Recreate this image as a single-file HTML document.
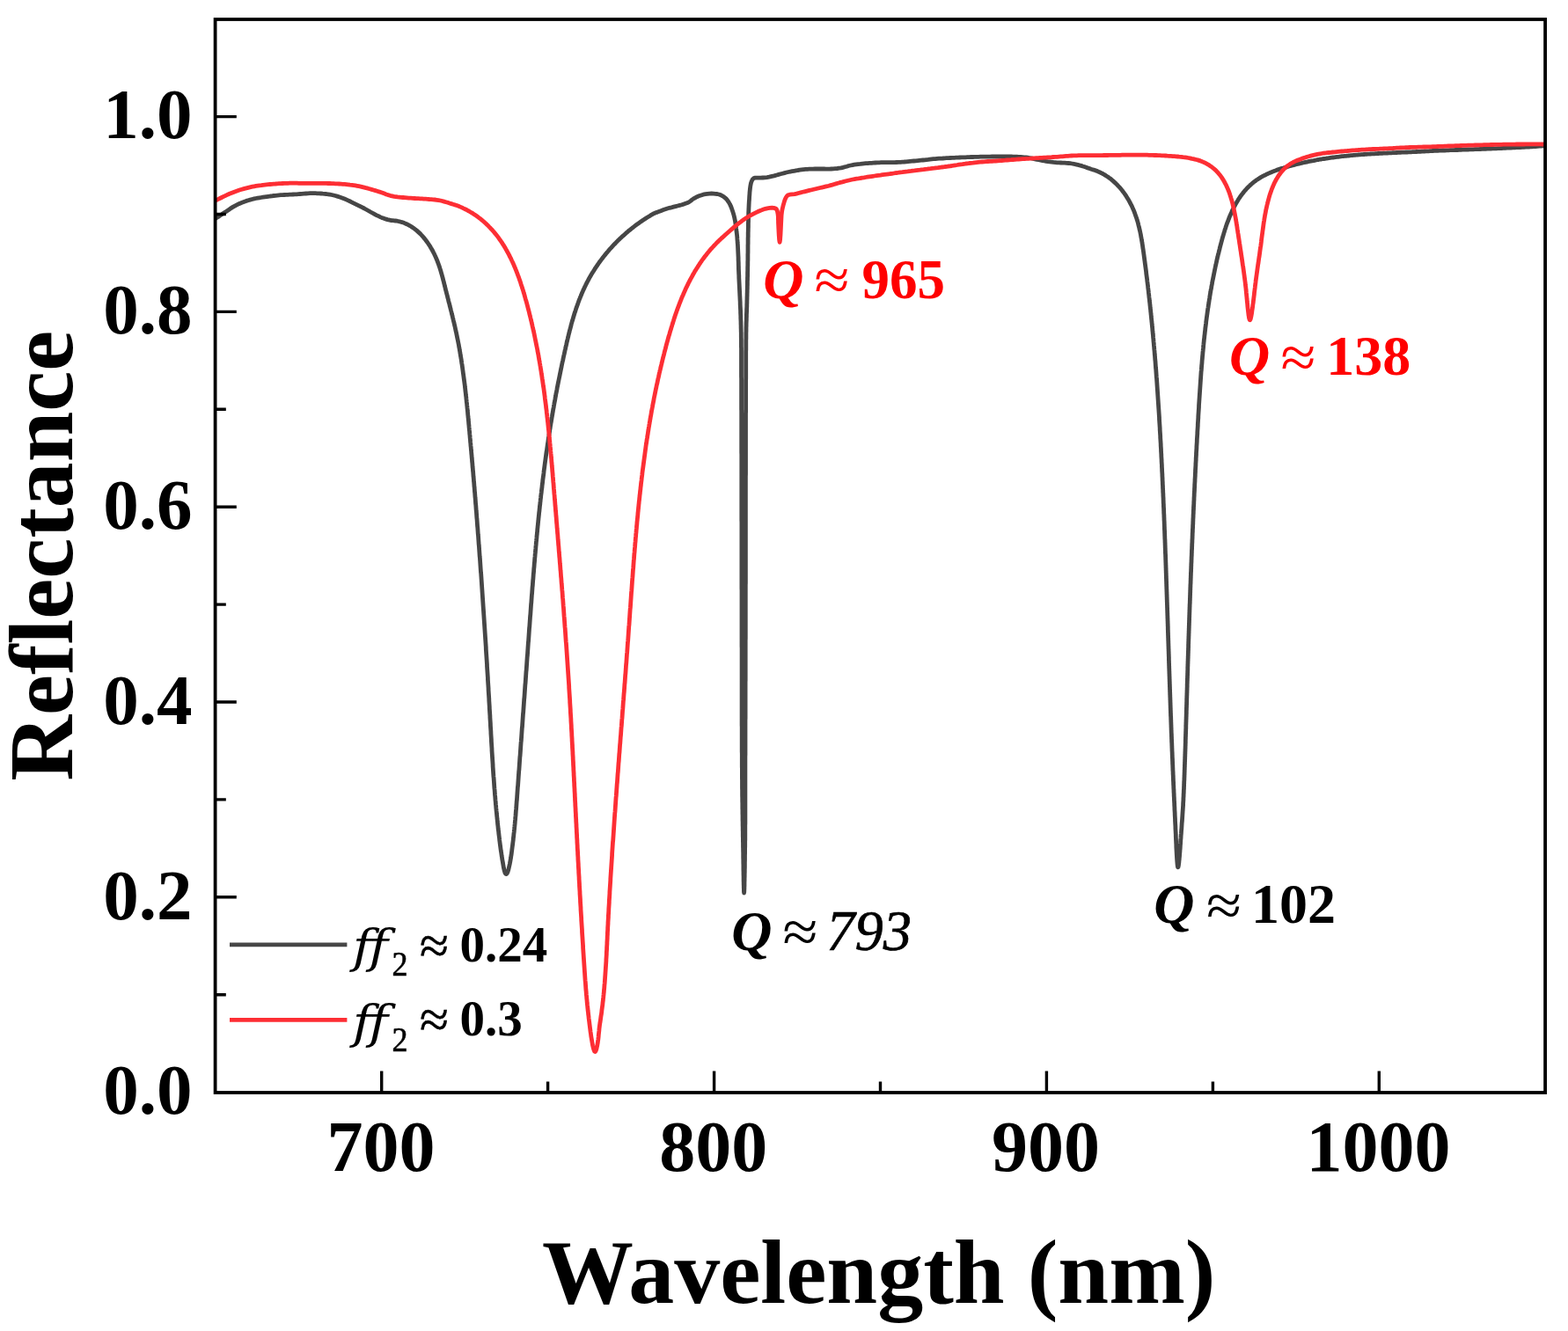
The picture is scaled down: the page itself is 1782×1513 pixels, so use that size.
<!DOCTYPE html><html><head><meta charset="utf-8"><title>Reflectance</title><style>html,body{margin:0;padding:0;background:#fff;}svg{display:block;}text{font-family:'Liberation Serif','Times New Roman',serif;}</style></head><body>
<svg width="1782" height="1513" viewBox="0 0 1782 1513">
<rect width="1782" height="1513" fill="#ffffff"/>
<defs><clipPath id="c"><rect x="244.8" y="22.0" width="1511.4" height="1219.6"/></clipPath></defs>
<g clip-path="url(#c)" fill="none" stroke-linejoin="round" stroke-linecap="round">
<path d="M244.8 248.3 L245.7 247.8 L246.8 247.2 L248.1 246.4 L249.7 245.3 L251.5 244.1 L253.3 242.8 L255.2 241.6 L257.0 240.4 L258.8 239.2 L260.7 237.9 L262.6 236.6 L264.5 235.4 L266.4 234.3 L268.3 233.3 L270.1 232.4 L272.0 231.5 L273.9 230.7 L275.8 229.9 L277.7 229.2 L279.9 228.4 L282.1 227.7 L284.3 227.1 L286.6 226.5 L288.9 225.9 L290.8 225.5 L292.8 225.1 L294.8 224.8 L296.8 224.5 L298.8 224.2 L300.9 223.9 L302.9 223.6 L304.9 223.3 L306.9 223.0 L308.9 222.8 L311.0 222.5 L313.0 222.3 L315.0 222.1 L317.0 221.9 L319.0 221.7 L321.0 221.6 L323.1 221.5 L325.1 221.4 L327.1 221.3 L329.1 221.2 L331.0 221.1 L333.1 221.0 L335.1 220.9 L337.2 220.8 L339.1 220.6 L341.1 220.5 L343.0 220.4 L345.4 220.2 L347.6 220.0 L349.9 219.8 L352.3 219.7 L354.3 219.7 L356.3 219.7 L358.4 219.7 L360.5 219.8 L362.6 219.9 L364.7 220.0 L366.8 220.2 L368.8 220.3 L370.9 220.5 L372.9 220.8 L375.0 221.1 L377.0 221.5 L379.1 222.0 L381.2 222.5 L383.2 223.1 L385.3 223.8 L387.4 224.5 L389.4 225.2 L391.5 226.0 L393.5 226.9 L395.6 227.9 L397.6 228.8 L399.7 229.8 L401.7 230.8 L403.8 231.8 L405.8 232.8 L407.9 233.8 L410.0 234.9 L412.0 235.9 L414.1 237.0 L415.9 238.0 L417.7 239.0 L419.5 240.0 L421.2 241.0 L423.0 242.0 L424.7 242.9 L426.4 243.8 L428.3 244.8 L430.2 245.7 L432.0 246.6 L433.8 247.4 L435.7 248.1 L438.0 248.9 L440.4 249.6 L442.7 250.1 L444.9 250.6 L446.5 250.7 L448.0 250.8 L449.5 251.0 L451.0 251.2 L452.5 251.5 L454.0 251.8 L455.4 252.2 L456.8 252.6 L458.2 253.1 L459.6 253.6 L461.0 254.2 L462.3 254.8 L463.6 255.4 L464.9 256.1 L466.2 256.8 L467.4 257.6 L468.7 258.4 L469.9 259.2 L471.1 260.1 L472.2 261.0 L473.4 261.9 L474.5 262.9 L475.6 263.9 L476.7 264.9 L477.8 265.9 L478.8 267.0 L479.8 268.1 L480.8 269.2 L481.8 270.4 L482.8 271.6 L483.7 272.8 L484.6 274.0 L485.5 275.2 L486.4 276.5 L487.3 277.8 L488.1 279.0 L488.9 280.3 L489.7 281.7 L490.5 283.0 L491.2 284.3 L492.0 285.7 L492.7 287.1 L493.4 288.4 L494.0 289.8 L494.7 291.2 L495.3 292.6 L495.9 294.0 L496.5 295.4 L497.0 296.8 L497.6 298.2 L498.1 299.6 L498.6 301.0 L499.1 302.4 L499.6 303.8 L500.0 305.2 L500.5 306.6 L500.9 308.0 L501.3 309.4 L501.7 310.8 L502.1 312.2 L502.5 313.6 L502.9 315.1 L503.3 316.5 L503.6 317.9 L504.0 319.3 L504.4 320.7 L504.7 322.2 L505.1 323.6 L505.4 325.0 L505.8 326.4 L506.1 327.9 L506.5 329.3 L506.9 330.8 L507.2 332.2 L507.6 333.6 L508.0 335.1 L508.4 336.5 L508.7 338.0 L509.1 339.4 L509.5 340.9 L509.8 342.3 L510.2 343.8 L510.6 345.2 L511.0 346.7 L511.3 348.2 L511.7 349.6 L512.1 351.1 L512.4 352.5 L512.8 354.0 L513.2 355.5 L513.5 356.9 L513.9 358.4 L514.3 359.9 L514.6 361.3 L515.0 362.8 L515.3 364.3 L515.7 365.8 L516.0 367.2 L516.4 368.7 L516.7 370.2 L517.1 371.6 L517.4 373.1 L517.7 374.6 L518.0 376.1 L518.4 377.6 L518.7 379.0 L519.0 380.5 L519.3 382.0 L519.6 383.5 L519.9 384.9 L520.2 386.4 L520.5 387.9 L520.8 389.4 L521.1 390.9 L521.4 392.3 L521.6 393.8 L521.9 395.3 L522.2 396.8 L522.4 398.3 L522.7 399.7 L522.9 401.2 L523.2 402.7 L523.4 404.2 L523.7 405.7 L523.9 407.2 L524.2 408.6 L524.4 410.1 L524.6 411.6 L524.8 413.1 L525.1 414.6 L525.3 416.1 L525.5 417.5 L525.7 419.0 L525.9 420.5 L526.1 422.0 L526.3 423.5 L526.5 425.0 L526.7 426.5 L526.9 427.9 L527.1 429.4 L527.3 430.9 L527.5 432.4 L527.7 433.9 L527.9 435.4 L528.1 436.9 L528.3 438.3 L528.4 439.8 L528.6 441.3 L528.8 442.8 L528.9 444.3 L529.1 445.8 L529.3 447.3 L529.4 448.8 L529.6 450.3 L529.8 451.7 L529.9 453.2 L530.1 454.7 L530.2 456.2 L530.4 457.7 L530.6 459.2 L530.7 460.7 L530.9 462.2 L531.0 463.7 L531.2 465.2 L531.3 466.6 L531.5 468.1 L531.6 469.6 L531.7 471.1 L531.9 472.6 L532.0 474.1 L532.2 475.6 L532.3 477.1 L532.5 478.6 L532.6 480.1 L532.7 481.6 L532.9 483.1 L533.0 484.5 L533.1 486.0 L533.3 487.5 L533.4 489.0 L533.6 490.5 L533.7 492.0 L533.8 493.5 L534.0 495.0 L534.1 496.5 L534.2 498.0 L534.4 499.5 L534.5 501.0 L534.6 502.5 L534.8 504.0 L534.9 505.5 L535.0 507.0 L535.2 508.4 L535.3 509.9 L535.4 511.4 L535.6 512.9 L535.7 514.4 L535.8 515.9 L536.0 517.4 L536.1 518.9 L536.2 520.4 L536.4 521.9 L536.5 523.4 L536.6 524.9 L536.8 526.4 L536.9 527.9 L537.0 529.4 L537.1 530.9 L537.3 532.4 L537.4 533.9 L537.5 535.4 L537.7 536.9 L537.8 538.4 L537.9 539.9 L538.0 541.4 L538.2 542.8 L538.3 544.3 L538.4 545.8 L538.5 547.3 L538.7 548.8 L538.8 550.3 L538.9 551.8 L539.0 553.3 L539.2 554.8 L539.3 556.3 L539.4 557.8 L539.5 559.3 L539.7 560.8 L539.8 562.3 L539.9 563.8 L540.0 565.3 L540.2 566.8 L540.3 568.3 L540.4 569.8 L540.5 571.3 L540.6 572.8 L540.8 574.3 L540.9 575.8 L541.0 577.3 L541.1 578.8 L541.2 580.3 L541.4 581.8 L541.5 583.3 L541.6 584.8 L541.7 586.3 L541.8 587.8 L541.9 589.3 L542.1 590.8 L542.2 592.3 L542.3 593.8 L542.4 595.3 L542.5 596.8 L542.6 598.3 L542.8 599.8 L542.9 601.3 L543.0 602.8 L543.1 604.3 L543.2 605.8 L543.3 607.3 L543.5 608.8 L543.6 610.3 L543.7 611.8 L543.8 613.3 L543.9 614.8 L544.0 616.3 L544.1 617.8 L544.2 619.3 L544.4 620.8 L544.5 622.3 L544.6 623.8 L544.7 625.3 L544.8 626.8 L544.9 628.3 L545.0 629.8 L545.1 631.3 L545.2 632.8 L545.4 634.3 L545.5 635.8 L545.6 637.3 L545.7 638.8 L545.8 640.3 L545.9 641.8 L546.0 643.3 L546.1 644.8 L546.2 646.3 L546.3 647.8 L546.4 649.3 L546.5 650.8 L546.7 652.3 L546.8 653.8 L546.9 655.3 L547.0 656.8 L547.1 658.3 L547.2 659.8 L547.3 661.3 L547.4 662.8 L547.5 664.3 L547.6 665.8 L547.7 667.3 L547.8 668.8 L547.9 670.3 L548.0 671.8 L548.1 673.3 L548.2 674.8 L548.3 676.3 L548.4 677.8 L548.5 679.3 L548.6 680.8 L548.7 682.3 L548.8 683.8 L548.9 685.3 L549.0 686.8 L549.1 688.3 L549.2 689.8 L549.3 691.3 L549.4 692.7 L549.5 694.2 L549.6 695.7 L549.7 697.2 L549.8 698.7 L549.9 700.2 L550.0 701.7 L550.1 703.2 L550.2 704.7 L550.3 706.2 L550.4 707.7 L550.5 709.2 L550.6 710.7 L550.7 712.2 L550.8 713.7 L550.9 715.2 L551.0 716.7 L551.1 718.2 L551.2 719.7 L551.3 721.2 L551.4 722.7 L551.5 724.2 L551.6 725.7 L551.7 727.2 L551.8 728.7 L551.9 730.2 L552.0 731.7 L552.1 733.2 L552.2 734.7 L552.3 736.2 L552.3 737.7 L552.4 739.2 L552.5 740.7 L552.6 742.2 L552.7 743.7 L552.8 745.2 L552.9 746.7 L553.0 748.2 L553.1 749.7 L553.2 751.2 L553.3 752.7 L553.4 754.2 L553.5 755.7 L553.5 757.2 L553.6 758.7 L553.7 760.2 L553.8 761.7 L553.9 763.2 L554.0 764.7 L554.1 766.2 L554.2 767.7 L554.3 769.2 L554.4 770.7 L554.4 772.2 L554.5 773.6 L554.6 775.1 L554.7 776.6 L554.8 778.1 L554.9 779.6 L555.0 781.1 L555.1 782.6 L555.1 784.1 L555.2 785.6 L555.3 787.1 L555.4 788.6 L555.5 790.1 L555.6 791.6 L555.7 793.1 L555.8 794.6 L555.8 796.1 L555.9 797.6 L556.0 799.1 L556.1 800.6 L556.2 802.1 L556.3 803.6 L556.3 805.1 L556.4 806.5 L556.5 808.0 L556.6 809.5 L556.7 811.0 L556.8 812.5 L556.9 814.0 L556.9 815.5 L557.0 817.0 L557.1 818.5 L557.2 820.0 L557.3 821.5 L557.4 823.0 L557.4 824.5 L557.5 826.0 L557.6 827.5 L557.7 828.9 L557.8 830.4 L557.9 831.9 L557.9 833.4 L558.0 834.9 L558.1 836.4 L558.2 837.9 L558.3 839.4 L558.4 840.9 L558.4 842.4 L558.5 843.9 L558.6 845.4 L558.7 846.9 L558.8 848.4 L558.9 849.8 L559.0 851.3 L559.0 852.8 L559.1 854.3 L559.2 855.8 L559.3 857.3 L559.4 858.8 L559.5 860.3 L559.6 861.8 L559.7 863.3 L559.8 864.8 L559.9 866.3 L560.0 867.8 L560.1 869.3 L560.1 870.8 L560.2 872.3 L560.3 873.7 L560.4 875.2 L560.5 876.7 L560.6 878.2 L560.7 879.7 L560.8 881.2 L560.9 882.7 L561.1 884.2 L561.2 885.7 L561.3 887.2 L561.4 888.7 L561.5 890.2 L561.6 891.7 L561.7 893.2 L561.8 894.7 L561.9 896.2 L562.1 897.7 L562.2 899.2 L562.3 900.7 L562.4 902.2 L562.5 903.7 L562.7 905.2 L562.8 906.7 L562.9 908.2 L563.0 909.7 L563.2 911.2 L563.3 912.7 L563.4 914.2 L563.6 915.7 L563.7 917.2 L563.8 918.7 L564.0 920.2 L564.1 921.7 L564.3 923.3 L564.4 924.8 L564.6 926.3 L564.7 927.8 L564.9 929.3 L565.0 930.8 L565.2 932.3 L565.3 933.8 L565.5 935.3 L565.6 936.8 L565.8 938.3 L566.0 939.9 L566.1 941.4 L566.3 942.9 L566.5 944.4 L566.7 945.9 L566.8 947.4 L567.0 948.9 L567.2 950.5 L567.4 952.0 L567.6 953.5 L567.7 955.0 L567.9 956.5 L568.1 958.0 L568.3 959.6 L568.5 961.1 L568.7 962.6 L568.9 964.1 L569.1 965.7 L569.3 967.2 L569.6 968.7 L569.8 970.2 L570.0 971.8 L570.2 973.3 L570.5 974.9 L570.7 976.5 L571.0 978.2 L571.3 979.8 L571.6 981.5 L571.9 983.3 L572.2 985.0 L572.5 986.8 L572.9 988.5 L573.3 990.1 L573.7 991.4 L574.1 992.5 L574.6 993.2 L575.0 993.5 L575.5 993.6 L575.9 993.2 L576.4 992.5 L576.9 991.5 L577.3 990.2 L577.8 988.7 L578.2 987.0 L578.6 985.2 L579.0 983.4 L579.4 981.7 L579.7 980.0 L580.0 978.3 L580.3 976.6 L580.6 975.0 L580.8 973.3 L581.1 971.7 L581.3 970.1 L581.5 968.5 L581.7 967.0 L581.9 965.4 L582.1 963.8 L582.3 962.2 L582.5 960.7 L582.7 959.1 L582.9 957.5 L583.1 956.0 L583.3 954.4 L583.4 952.9 L583.6 951.4 L583.8 949.8 L583.9 948.3 L584.1 946.8 L584.3 945.2 L584.4 943.7 L584.6 942.2 L584.7 940.7 L584.9 939.2 L585.0 937.7 L585.2 936.2 L585.3 934.7 L585.4 933.2 L585.6 931.7 L585.7 930.2 L585.8 928.7 L586.0 927.2 L586.1 925.7 L586.2 924.2 L586.3 922.7 L586.4 921.2 L586.6 919.7 L586.7 918.2 L586.8 916.8 L586.9 915.3 L587.0 913.8 L587.1 912.3 L587.2 910.8 L587.4 909.4 L587.5 907.9 L587.6 906.4 L587.7 904.9 L587.8 903.4 L587.9 902.0 L588.0 900.5 L588.1 899.0 L588.2 897.5 L588.3 896.1 L588.4 894.6 L588.6 893.1 L588.7 891.6 L588.8 890.1 L588.9 888.6 L589.0 887.2 L589.1 885.7 L589.2 884.2 L589.3 882.7 L589.4 881.2 L589.5 879.8 L589.6 878.3 L589.7 876.8 L589.9 875.3 L590.0 873.8 L590.1 872.3 L590.2 870.8 L590.3 869.4 L590.4 867.9 L590.5 866.4 L590.6 864.9 L590.7 863.4 L590.8 861.9 L590.9 860.4 L591.1 858.9 L591.2 857.4 L591.3 856.0 L591.4 854.5 L591.5 853.0 L591.6 851.5 L591.7 850.0 L591.8 848.5 L591.9 847.0 L592.0 845.5 L592.1 844.0 L592.3 842.5 L592.4 841.0 L592.5 839.5 L592.6 838.1 L592.7 836.6 L592.8 835.1 L592.9 833.6 L593.0 832.1 L593.1 830.6 L593.2 829.1 L593.3 827.6 L593.5 826.1 L593.6 824.6 L593.7 823.1 L593.8 821.6 L593.9 820.1 L594.0 818.6 L594.1 817.1 L594.2 815.6 L594.3 814.1 L594.4 812.6 L594.5 811.1 L594.7 809.6 L594.8 808.1 L594.9 806.6 L595.0 805.1 L595.1 803.6 L595.2 802.1 L595.3 800.6 L595.4 799.1 L595.5 797.6 L595.6 796.1 L595.7 794.6 L595.9 793.1 L596.0 791.6 L596.1 790.1 L596.2 788.6 L596.3 787.1 L596.4 785.6 L596.5 784.1 L596.6 782.6 L596.7 781.1 L596.8 779.6 L596.9 778.1 L597.1 776.6 L597.2 775.1 L597.3 773.6 L597.4 772.1 L597.5 770.6 L597.6 769.1 L597.7 767.6 L597.8 766.1 L597.9 764.6 L598.0 763.1 L598.2 761.6 L598.3 760.1 L598.4 758.6 L598.5 757.1 L598.6 755.6 L598.7 754.1 L598.8 752.6 L598.9 751.1 L599.0 749.6 L599.1 748.1 L599.2 746.6 L599.4 745.1 L599.5 743.6 L599.6 742.1 L599.7 740.6 L599.8 739.1 L599.9 737.6 L600.0 736.1 L600.1 734.6 L600.2 733.1 L600.3 731.6 L600.4 730.1 L600.6 728.6 L600.7 727.1 L600.8 725.6 L600.9 724.1 L601.0 722.6 L601.1 721.1 L601.2 719.6 L601.3 718.1 L601.4 716.6 L601.5 715.1 L601.6 713.6 L601.8 712.1 L601.9 710.6 L602.0 709.1 L602.1 707.6 L602.2 706.1 L602.3 704.6 L602.4 703.1 L602.5 701.6 L602.6 700.1 L602.8 698.6 L602.9 697.1 L603.0 695.6 L603.1 694.1 L603.2 692.6 L603.3 691.1 L603.4 689.6 L603.5 688.1 L603.6 686.6 L603.8 685.1 L603.9 683.6 L604.0 682.1 L604.1 680.6 L604.2 679.1 L604.3 677.6 L604.4 676.1 L604.6 674.6 L604.7 673.1 L604.8 671.6 L604.9 670.1 L605.0 668.6 L605.1 667.1 L605.3 665.6 L605.4 664.1 L605.5 662.6 L605.6 661.1 L605.7 659.6 L605.9 658.1 L606.0 656.6 L606.1 655.1 L606.2 653.6 L606.3 652.1 L606.5 650.6 L606.6 649.1 L606.7 647.6 L606.8 646.1 L607.0 644.6 L607.1 643.1 L607.2 641.6 L607.3 640.1 L607.5 638.6 L607.6 637.1 L607.7 635.7 L607.8 634.2 L608.0 632.7 L608.1 631.2 L608.2 629.7 L608.4 628.2 L608.5 626.7 L608.6 625.2 L608.8 623.7 L608.9 622.2 L609.0 620.7 L609.2 619.2 L609.3 617.7 L609.4 616.2 L609.6 614.7 L609.7 613.2 L609.9 611.7 L610.0 610.2 L610.1 608.7 L610.3 607.3 L610.4 605.8 L610.6 604.3 L610.7 602.8 L610.8 601.3 L611.0 599.8 L611.1 598.3 L611.3 596.8 L611.4 595.3 L611.6 593.8 L611.7 592.3 L611.9 590.8 L612.0 589.3 L612.2 587.8 L612.3 586.4 L612.5 584.9 L612.6 583.4 L612.8 581.9 L613.0 580.4 L613.1 578.9 L613.3 577.4 L613.4 575.9 L613.6 574.4 L613.8 572.9 L613.9 571.4 L614.1 570.0 L614.2 568.5 L614.4 567.0 L614.6 565.5 L614.7 564.0 L614.9 562.5 L615.1 561.0 L615.3 559.5 L615.4 558.0 L615.6 556.5 L615.8 555.1 L616.0 553.6 L616.1 552.1 L616.3 550.6 L616.5 549.1 L616.7 547.6 L616.8 546.1 L617.0 544.6 L617.2 543.2 L617.4 541.7 L617.6 540.2 L617.8 538.7 L618.0 537.2 L618.1 535.7 L618.3 534.2 L618.5 532.7 L618.7 531.3 L618.9 529.8 L619.1 528.3 L619.3 526.8 L619.5 525.3 L619.7 523.8 L619.9 522.3 L620.1 520.9 L620.3 519.4 L620.5 517.9 L620.7 516.4 L620.9 514.9 L621.1 513.4 L621.4 512.0 L621.6 510.5 L621.8 509.0 L622.0 507.5 L622.2 506.0 L622.4 504.5 L622.7 503.1 L622.9 501.6 L623.1 500.1 L623.3 498.6 L623.5 497.1 L623.8 495.6 L624.0 494.2 L624.2 492.7 L624.5 491.2 L624.7 489.7 L624.9 488.2 L625.2 486.8 L625.4 485.3 L625.6 483.8 L625.9 482.3 L626.1 480.8 L626.4 479.4 L626.6 477.9 L626.9 476.4 L627.1 474.9 L627.4 473.4 L627.6 472.0 L627.9 470.5 L628.1 469.0 L628.4 467.5 L628.6 466.0 L628.9 464.6 L629.2 463.1 L629.4 461.6 L629.7 460.1 L629.9 458.7 L630.2 457.2 L630.5 455.7 L630.8 454.2 L631.0 452.8 L631.3 451.3 L631.6 449.8 L631.8 448.3 L632.1 446.8 L632.4 445.4 L632.7 443.9 L633.0 442.4 L633.2 440.9 L633.5 439.5 L633.8 438.0 L634.1 436.5 L634.4 435.0 L634.7 433.6 L635.0 432.1 L635.3 430.6 L635.6 429.1 L635.9 427.7 L636.2 426.2 L636.5 424.7 L636.8 423.3 L637.1 421.8 L637.4 420.3 L637.7 418.8 L638.0 417.4 L638.3 415.9 L638.6 414.4 L638.9 412.9 L639.2 411.5 L639.6 410.0 L639.9 408.5 L640.2 407.1 L640.5 405.6 L640.8 404.1 L641.2 402.6 L641.5 401.2 L641.8 399.7 L642.1 398.2 L642.5 396.8 L642.8 395.3 L643.1 393.8 L643.5 392.3 L643.8 390.9 L644.1 389.4 L644.5 387.9 L644.8 386.5 L645.2 385.0 L645.5 383.5 L645.9 382.1 L646.2 380.6 L646.6 379.2 L647.0 377.7 L647.3 376.2 L647.7 374.8 L648.1 373.3 L648.5 371.9 L648.9 370.4 L649.2 369.0 L649.6 367.5 L650.0 366.1 L650.5 364.6 L650.9 363.2 L651.3 361.8 L651.7 360.3 L652.2 358.9 L652.6 357.4 L653.0 356.0 L653.5 354.6 L654.0 353.2 L654.4 351.8 L654.9 350.3 L655.4 348.9 L655.9 347.5 L656.4 346.1 L656.9 344.7 L657.4 343.3 L657.9 341.9 L658.4 340.5 L659.0 339.1 L659.5 337.7 L660.1 336.4 L660.7 335.0 L661.2 333.6 L661.8 332.2 L662.4 330.9 L663.0 329.5 L663.7 328.2 L664.3 326.8 L664.9 325.5 L665.6 324.1 L666.2 322.8 L666.9 321.5 L667.6 320.1 L668.3 318.8 L669.0 317.5 L669.7 316.2 L670.4 314.9 L671.2 313.6 L671.9 312.3 L672.7 311.0 L673.5 309.7 L674.3 308.5 L675.1 307.2 L675.9 305.9 L676.7 304.7 L677.5 303.4 L678.4 302.2 L679.2 300.9 L680.1 299.7 L680.9 298.5 L681.8 297.3 L682.7 296.1 L683.6 294.9 L684.5 293.7 L685.4 292.5 L686.4 291.3 L687.3 290.1 L688.3 288.9 L689.2 287.8 L690.2 286.6 L691.2 285.5 L692.1 284.3 L693.1 283.2 L694.1 282.1 L695.2 281.0 L696.2 279.8 L697.2 278.7 L698.2 277.6 L699.3 276.6 L700.3 275.5 L701.4 274.4 L702.5 273.3 L703.6 272.3 L704.6 271.2 L705.7 270.2 L706.8 269.2 L708.0 268.2 L709.1 267.2 L710.2 266.2 L711.3 265.2 L712.5 264.2 L713.6 263.2 L714.8 262.2 L715.9 261.3 L717.1 260.3 L718.3 259.4 L719.5 258.5 L720.7 257.5 L721.8 256.6 L723.0 255.7 L724.3 254.8 L725.5 254.0 L726.7 253.1 L727.9 252.2 L729.2 251.4 L730.4 250.5 L731.6 249.7 L732.9 248.9 L734.1 248.1 L735.4 247.3 L736.7 246.5 L738.0 245.7 L739.2 244.9 L740.5 244.2 L741.8 243.4 L743.1 242.7 L745.2 241.8 L747.3 241.1 L749.5 240.3 L751.6 239.5 L753.9 238.6 L756.2 237.8 L758.5 237.0 L760.8 236.3 L763.1 235.8 L765.5 235.2 L767.8 234.6 L770.2 234.0 L772.5 233.4 L774.8 232.8 L777.0 232.1 L779.2 231.3 L781.3 230.5 L783.2 229.6 L784.9 228.4 L786.4 227.1 L788.1 225.9 L790.1 224.8 L792.1 223.7 L794.3 222.8 L796.7 222.0 L799.1 221.2 L801.7 220.7 L804.0 220.4 L806.3 220.1 L808.7 220.0 L811.0 220.1 L813.1 220.3 L815.1 220.5 L817.1 221.0 L819.0 221.6 L821.2 222.8 L823.3 224.2 L825.2 225.9 L826.8 227.8 L828.2 229.9 L829.5 232.1 L830.4 234.0 L831.2 236.0 L831.9 238.0 L832.6 240.1 L833.3 242.3 L834.0 244.6 L834.6 247.0 L835.1 249.4 L835.5 251.3 L835.8 253.4 L836.1 255.4 L836.4 257.5 L836.6 259.6 L836.9 261.7 L837.1 263.7 L837.4 265.8 L837.6 267.8 L837.8 269.8 L837.9 271.9 L838.1 274.1 L838.2 276.1 L838.4 278.1 L838.5 280.2 L838.6 282.3 L838.7 284.5 L838.8 286.6 L838.9 288.8 L839.0 291.0 L839.1 293.0 L839.1 295.1 L839.2 297.1 L839.3 299.1 L839.3 301.2 L839.4 303.3 L839.4 305.5 L839.5 307.7 L839.6 310.0 L839.7 311.8 L839.8 313.6 L839.8 315.5 L839.9 317.5 L840.0 319.4 L840.1 321.4 L840.2 323.4 L840.3 325.5 L840.4 327.5 L840.5 329.6 L840.6 331.7 L840.7 333.7 L840.8 335.8 L840.9 337.9 L841.0 340.0 L841.1 342.0 L841.2 343.9 L841.2 345.8 L841.3 347.8 L841.4 349.7 L841.5 351.6 L841.6 353.6 L841.6 355.5 L841.7 357.5 L841.8 359.5 L841.8 361.6 L841.9 363.7 L842.0 365.8 L842.0 368.0 L842.1 370.3 L842.1 372.6 L842.2 375.0 L842.2 376.7 L842.3 378.3 L842.3 380.0 L842.3 381.7 L842.3 383.4 L842.4 385.1 L842.4 386.8 L842.4 388.5 L842.4 390.3 L842.4 392.1 L842.4 393.9 L842.5 395.7 L842.5 397.5 L842.5 399.4 L842.5 401.2 L842.5 403.1 L842.5 405.1 L842.5 407.0 L842.5 409.0 L842.5 411.0 L842.5 413.0 L842.5 415.1 L842.5 417.2 L842.5 419.3 L842.5 421.4 L842.5 423.6 L842.5 425.8 L842.5 428.1 L842.6 430.4 L842.6 432.7 L842.6 435.0 L842.6 437.4 L842.6 439.9 L842.6 442.3 L842.6 444.8 L842.6 447.4 L842.6 450.0 L842.6 451.4 L842.6 452.9 L842.6 454.3 L842.6 455.8 L842.6 457.3 L842.6 458.9 L842.6 460.4 L842.6 462.0 L842.6 463.6 L842.6 465.2 L842.7 466.8 L842.7 468.4 L842.7 470.1 L842.7 471.8 L842.7 473.5 L842.7 475.2 L842.7 476.9 L842.7 478.7 L842.7 480.4 L842.7 482.2 L842.7 484.0 L842.7 485.8 L842.7 487.6 L842.7 489.5 L842.7 491.3 L842.7 493.2 L842.7 495.1 L842.7 496.9 L842.7 498.8 L842.7 500.8 L842.7 502.7 L842.7 504.6 L842.7 506.6 L842.7 508.6 L842.7 510.6 L842.7 512.5 L842.7 514.5 L842.8 516.6 L842.8 518.6 L842.8 520.6 L842.8 522.7 L842.8 524.7 L842.8 526.8 L842.8 528.8 L842.8 530.9 L842.8 533.0 L842.8 535.1 L842.8 537.2 L842.8 539.3 L842.8 541.4 L842.8 543.6 L842.8 545.7 L842.8 547.8 L842.8 550.0 L842.8 552.1 L842.8 554.3 L842.8 556.5 L842.8 558.6 L842.8 560.8 L842.8 563.0 L842.8 565.2 L842.8 567.3 L842.8 569.5 L842.8 571.7 L842.8 573.9 L842.8 576.1 L842.8 578.3 L842.8 580.5 L842.8 582.7 L842.8 584.9 L842.8 587.1 L842.8 589.3 L842.8 591.5 L842.9 593.7 L842.9 595.9 L842.9 598.1 L842.9 600.3 L842.9 602.6 L842.9 604.8 L842.9 607.0 L842.9 609.2 L842.9 611.4 L842.9 613.6 L842.9 615.8 L842.9 617.9 L842.9 620.1 L842.9 622.3 L842.9 624.5 L842.9 626.7 L842.9 628.8 L842.9 631.0 L842.9 633.2 L842.9 635.3 L842.9 637.5 L842.9 639.6 L842.9 641.8 L842.9 643.9 L842.9 646.0 L842.9 648.2 L842.9 650.3 L842.9 652.4 L842.9 654.5 L842.9 656.6 L842.9 658.7 L842.9 660.7 L842.9 662.8 L842.9 664.9 L842.9 666.9 L842.9 669.0 L843.0 671.0 L843.0 673.0 L843.0 675.0 L843.0 677.0 L843.0 679.0 L843.0 681.0 L843.0 682.9 L843.0 684.9 L843.0 686.8 L843.0 688.7 L843.0 690.6 L843.0 692.5 L843.0 694.4 L843.0 696.3 L843.0 698.2 L843.0 700.0 L843.0 702.2 L843.0 704.3 L843.0 706.5 L843.0 708.7 L843.0 710.8 L843.0 713.0 L843.0 715.2 L843.0 717.3 L843.0 719.5 L843.0 721.7 L843.0 723.9 L843.0 726.0 L843.0 728.2 L843.0 730.4 L843.0 732.5 L843.0 734.7 L843.1 736.9 L843.1 739.0 L843.1 741.2 L843.1 743.4 L843.1 745.5 L843.1 747.7 L843.1 749.8 L843.1 752.0 L843.1 754.1 L843.1 756.3 L843.1 758.4 L843.1 760.6 L843.1 762.7 L843.1 764.9 L843.1 767.0 L843.1 769.1 L843.1 771.2 L843.1 773.4 L843.1 775.5 L843.1 777.6 L843.1 779.7 L843.1 781.8 L843.1 783.9 L843.1 786.0 L843.1 788.1 L843.1 790.1 L843.1 792.2 L843.1 794.3 L843.1 796.3 L843.1 798.4 L843.1 800.4 L843.1 802.5 L843.1 804.5 L843.1 806.6 L843.1 808.6 L843.1 810.6 L843.1 812.6 L843.1 814.6 L843.1 816.6 L843.1 818.6 L843.1 820.6 L843.1 822.5 L843.1 824.5 L843.2 826.4 L843.2 828.4 L843.2 830.3 L843.2 832.2 L843.2 834.1 L843.2 836.0 L843.2 837.9 L843.2 839.8 L843.2 841.7 L843.2 843.6 L843.2 845.4 L843.2 847.2 L843.2 849.1 L843.2 850.9 L843.2 852.7 L843.2 854.5 L843.3 856.3 L843.3 858.1 L843.3 859.8 L843.3 861.6 L843.3 863.3 L843.3 865.0 L843.3 866.8 L843.3 868.5 L843.3 870.2 L843.3 871.8 L843.4 873.5 L843.4 875.1 L843.4 876.8 L843.4 878.4 L843.4 880.0 L843.4 882.4 L843.4 884.7 L843.5 887.1 L843.5 889.4 L843.5 891.6 L843.5 893.9 L843.5 896.1 L843.6 898.3 L843.6 900.5 L843.6 902.6 L843.6 904.7 L843.7 906.8 L843.7 908.9 L843.7 911.0 L843.8 913.0 L843.8 915.0 L843.8 917.0 L843.8 919.0 L843.9 921.0 L843.9 922.9 L843.9 924.9 L844.0 926.8 L844.0 928.7 L844.0 930.6 L844.0 932.5 L844.1 934.4 L844.1 936.2 L844.1 938.1 L844.2 940.0 L844.2 941.8 L844.2 943.6 L844.3 945.5 L844.3 947.3 L844.3 949.1 L844.3 950.9 L844.4 952.7 L844.4 954.6 L844.4 956.4 L844.5 958.2 L844.5 960.0 L844.5 962.3 L844.6 964.7 L844.6 967.2 L844.7 969.7 L844.7 972.4 L844.7 975.0 L844.8 977.7 L844.8 980.4 L844.9 983.2 L844.9 985.9 L844.9 988.6 L845.0 991.2 L845.0 993.8 L845.1 996.3 L845.1 998.7 L845.1 1001.0 L845.2 1003.1 L845.2 1005.2 L845.3 1007.1 L845.3 1008.8 L845.4 1010.4 L845.4 1011.7 L845.4 1012.9 L845.5 1013.8 L845.5 1014.4 L845.6 1014.9 L845.6 1015.0 L845.6 1014.9 L845.7 1014.4 L845.7 1013.8 L845.8 1012.9 L845.8 1011.7 L845.9 1010.4 L845.9 1008.8 L846.0 1007.1 L846.0 1005.2 L846.0 1003.1 L846.1 1001.0 L846.1 998.7 L846.2 996.3 L846.2 993.8 L846.3 991.2 L846.3 988.6 L846.4 985.9 L846.4 983.2 L846.4 980.4 L846.5 977.7 L846.5 975.0 L846.5 972.4 L846.6 969.7 L846.6 967.2 L846.6 964.7 L846.7 962.3 L846.7 960.0 L846.7 958.2 L846.7 956.4 L846.8 954.6 L846.8 952.7 L846.8 950.9 L846.8 949.1 L846.8 947.3 L846.8 945.5 L846.8 943.6 L846.8 941.8 L846.8 940.0 L846.8 938.1 L846.9 936.2 L846.9 934.4 L846.9 932.5 L846.9 930.6 L846.9 928.7 L846.9 926.8 L846.9 924.9 L846.9 922.9 L846.9 921.0 L846.9 919.0 L846.9 917.0 L846.9 915.0 L846.9 913.0 L846.9 911.0 L846.9 908.9 L846.9 906.8 L846.9 904.7 L846.9 902.6 L846.9 900.5 L846.9 898.3 L846.9 896.1 L846.9 893.9 L846.9 891.6 L846.9 889.4 L846.9 887.1 L846.9 884.7 L846.9 882.4 L846.9 880.0 L846.9 878.4 L846.9 876.8 L846.9 875.1 L846.9 873.5 L846.9 871.8 L846.9 870.2 L846.9 868.5 L846.9 866.8 L846.9 865.0 L846.9 863.3 L846.9 861.6 L846.9 859.8 L847.0 858.1 L847.0 856.3 L847.0 854.5 L847.0 852.7 L847.0 850.9 L847.0 849.1 L847.0 847.2 L847.0 845.4 L847.0 843.6 L847.0 841.7 L847.0 839.8 L847.0 837.9 L847.0 836.0 L847.0 834.1 L847.0 832.2 L847.0 830.3 L847.0 828.4 L847.0 826.4 L847.0 824.5 L847.0 822.5 L847.0 820.6 L847.0 818.6 L847.1 816.6 L847.1 814.6 L847.1 812.6 L847.1 810.6 L847.1 808.6 L847.1 806.6 L847.1 804.5 L847.1 802.5 L847.1 800.4 L847.1 798.4 L847.1 796.3 L847.1 794.3 L847.1 792.2 L847.1 790.1 L847.1 788.1 L847.1 786.0 L847.1 783.9 L847.1 781.8 L847.1 779.7 L847.1 777.6 L847.1 775.5 L847.2 773.4 L847.2 771.2 L847.2 769.1 L847.2 767.0 L847.2 764.9 L847.2 762.7 L847.2 760.6 L847.2 758.4 L847.2 756.3 L847.2 754.1 L847.2 752.0 L847.2 749.8 L847.2 747.7 L847.2 745.5 L847.2 743.4 L847.2 741.2 L847.2 739.0 L847.2 736.9 L847.2 734.7 L847.2 732.5 L847.2 730.4 L847.2 728.2 L847.3 726.0 L847.3 723.9 L847.3 721.7 L847.3 719.5 L847.3 717.3 L847.3 715.2 L847.3 713.0 L847.3 710.8 L847.3 708.7 L847.3 706.5 L847.3 704.3 L847.3 702.2 L847.3 700.0 L847.3 698.2 L847.3 696.3 L847.3 694.4 L847.3 692.5 L847.3 690.6 L847.3 688.7 L847.3 686.8 L847.3 684.9 L847.3 682.9 L847.3 681.0 L847.3 679.0 L847.3 677.0 L847.3 675.0 L847.3 673.0 L847.3 671.0 L847.3 669.0 L847.3 666.9 L847.3 664.9 L847.4 662.8 L847.4 660.7 L847.4 658.7 L847.4 656.6 L847.4 654.5 L847.4 652.4 L847.4 650.3 L847.4 648.2 L847.4 646.0 L847.4 643.9 L847.4 641.8 L847.4 639.6 L847.4 637.5 L847.4 635.3 L847.4 633.2 L847.4 631.0 L847.4 628.8 L847.4 626.7 L847.4 624.5 L847.4 622.3 L847.4 620.1 L847.4 617.9 L847.4 615.8 L847.4 613.6 L847.4 611.4 L847.4 609.2 L847.4 607.0 L847.4 604.8 L847.4 602.6 L847.4 600.3 L847.4 598.1 L847.4 595.9 L847.4 593.7 L847.4 591.5 L847.4 589.3 L847.4 587.1 L847.4 584.9 L847.4 582.7 L847.4 580.5 L847.4 578.3 L847.4 576.1 L847.4 573.9 L847.4 571.7 L847.4 569.5 L847.4 567.3 L847.4 565.2 L847.4 563.0 L847.4 560.8 L847.4 558.6 L847.4 556.5 L847.4 554.3 L847.4 552.1 L847.4 550.0 L847.4 547.8 L847.4 545.7 L847.4 543.6 L847.4 541.4 L847.5 539.3 L847.5 537.2 L847.5 535.1 L847.5 533.0 L847.5 530.9 L847.5 528.8 L847.5 526.8 L847.5 524.7 L847.5 522.7 L847.5 520.6 L847.5 518.6 L847.5 516.6 L847.5 514.5 L847.5 512.5 L847.5 510.6 L847.5 508.6 L847.5 506.6 L847.5 504.6 L847.5 502.7 L847.5 500.8 L847.5 498.8 L847.5 496.9 L847.5 495.1 L847.5 493.2 L847.5 491.3 L847.5 489.5 L847.5 487.6 L847.5 485.8 L847.5 484.0 L847.5 482.2 L847.5 480.4 L847.5 478.7 L847.5 476.9 L847.5 475.2 L847.5 473.5 L847.5 471.8 L847.5 470.1 L847.6 468.4 L847.6 466.8 L847.6 465.2 L847.6 463.6 L847.6 462.0 L847.6 460.4 L847.6 458.9 L847.6 457.3 L847.6 455.8 L847.6 454.3 L847.6 452.9 L847.6 451.4 L847.6 450.0 L847.6 447.4 L847.6 444.8 L847.6 442.3 L847.6 439.9 L847.6 437.4 L847.6 435.0 L847.6 432.7 L847.7 430.4 L847.7 428.1 L847.7 425.8 L847.7 423.6 L847.7 421.4 L847.7 419.3 L847.7 417.2 L847.7 415.1 L847.7 413.0 L847.7 411.0 L847.7 409.0 L847.7 407.0 L847.7 405.1 L847.7 403.1 L847.7 401.2 L847.7 399.4 L847.8 397.5 L847.8 395.7 L847.8 393.9 L847.8 392.1 L847.8 390.3 L847.8 388.5 L847.8 386.8 L847.9 385.1 L847.9 383.4 L847.9 381.7 L847.9 380.0 L847.9 378.3 L848.0 376.7 L848.0 375.0 L848.0 372.6 L848.1 370.3 L848.1 368.1 L848.2 365.9 L848.3 363.8 L848.3 361.8 L848.4 359.8 L848.4 357.8 L848.5 355.9 L848.6 353.9 L848.6 352.0 L848.7 350.1 L848.8 348.1 L848.8 346.1 L848.9 344.1 L848.9 342.1 L849.0 340.0 L849.0 338.1 L849.1 336.1 L849.1 334.1 L849.2 332.1 L849.2 330.1 L849.3 328.1 L849.3 326.0 L849.4 324.0 L849.4 322.0 L849.4 319.9 L849.5 317.9 L849.5 315.9 L849.6 313.8 L849.6 311.8 L849.6 309.8 L849.7 307.8 L849.7 305.8 L849.7 303.9 L849.8 301.9 L849.8 300.0 L849.8 297.8 L849.9 295.7 L849.9 293.6 L849.9 291.4 L849.9 289.3 L850.0 287.2 L850.0 285.2 L850.0 283.1 L850.0 281.0 L850.0 279.0 L850.1 277.0 L850.1 274.9 L850.1 272.9 L850.1 270.9 L850.2 269.0 L850.2 267.0 L850.2 264.8 L850.3 262.6 L850.3 260.4 L850.4 258.2 L850.4 256.1 L850.4 253.9 L850.5 251.8 L850.5 249.7 L850.6 247.6 L850.6 245.6 L850.7 243.7 L850.7 241.8 L850.8 240.0 L850.9 237.6 L851.0 235.3 L851.1 233.2 L851.2 231.1 L851.3 229.0 L851.5 227.0 L851.6 225.0 L851.7 222.9 L851.9 220.8 L852.0 218.7 L852.2 216.7 L852.4 214.8 L852.6 213.0 L853.0 210.4 L853.5 208.0 L854.2 206.0 L855.2 204.0 L856.6 202.6 L858.2 202.2 L860.2 202.1 L862.4 202.2 L864.6 202.2 L866.9 202.0 L869.3 201.8 L871.7 201.6 L874.1 201.2 L876.3 200.7 L878.4 200.2 L880.6 199.6 L882.8 199.0 L884.9 198.4 L887.1 197.8 L889.3 197.2 L891.6 196.6 L893.8 196.0 L896.0 195.5 L898.2 195.1 L900.3 194.7 L902.5 194.3 L904.7 193.9 L906.9 193.5 L909.0 193.2 L911.1 192.9 L913.3 192.6 L915.6 192.4 L917.6 192.3 L919.6 192.2 L921.7 192.1 L923.8 192.1 L926.0 192.0 L928.1 192.0 L930.2 192.0 L932.3 192.0 L934.4 192.0 L936.6 192.0 L938.7 192.1 L940.8 192.1 L942.8 192.1 L944.8 192.0 L947.1 191.9 L949.3 191.7 L951.5 191.5 L953.6 191.2 L955.8 190.9 L958.0 190.4 L960.1 189.8 L962.3 189.2 L964.4 188.5 L966.7 188.0 L968.8 187.6 L970.9 187.2 L973.1 186.9 L975.3 186.6 L977.6 186.4 L980.0 186.1 L982.0 185.9 L984.0 185.7 L986.1 185.6 L988.2 185.4 L990.4 185.3 L992.6 185.1 L994.8 185.0 L997.0 184.9 L999.2 184.8 L1001.3 184.7 L1003.5 184.7 L1005.7 184.6 L1007.9 184.6 L1010.1 184.6 L1012.3 184.6 L1014.5 184.6 L1016.7 184.6 L1018.9 184.5 L1021.1 184.4 L1023.3 184.3 L1025.5 184.1 L1027.6 184.0 L1029.8 183.8 L1032.0 183.6 L1034.2 183.4 L1036.4 183.2 L1038.5 183.0 L1040.7 182.8 L1042.9 182.6 L1044.9 182.4 L1046.9 182.2 L1048.9 182.0 L1050.9 181.8 L1052.9 181.6 L1054.8 181.4 L1056.8 181.1 L1058.8 180.9 L1060.8 180.7 L1062.8 180.6 L1064.8 180.4 L1067.0 180.2 L1069.2 180.1 L1071.3 180.0 L1073.5 179.8 L1075.7 179.7 L1077.8 179.6 L1080.0 179.5 L1082.2 179.4 L1084.4 179.3 L1086.7 179.2 L1088.7 179.1 L1090.8 179.0 L1092.9 178.9 L1095.0 178.8 L1097.2 178.8 L1099.3 178.7 L1101.4 178.6 L1103.6 178.5 L1105.7 178.5 L1107.8 178.4 L1109.9 178.4 L1111.9 178.3 L1114.2 178.2 L1116.4 178.2 L1118.6 178.2 L1120.8 178.1 L1122.9 178.1 L1125.1 178.1 L1127.3 178.0 L1129.4 178.0 L1131.6 178.0 L1133.8 178.0 L1136.0 178.0 L1138.2 178.0 L1140.5 178.0 L1142.7 178.0 L1145.0 178.0 L1147.2 178.0 L1149.4 178.0 L1151.5 178.1 L1153.6 178.1 L1155.6 178.2 L1157.8 178.3 L1159.9 178.4 L1162.0 178.6 L1164.0 178.8 L1166.0 179.0 L1168.0 179.2 L1170.0 179.5 L1172.1 179.9 L1174.2 180.3 L1176.3 180.8 L1178.5 181.3 L1180.6 181.7 L1182.7 182.2 L1184.8 182.6 L1186.9 182.9 L1188.9 183.3 L1191.0 183.6 L1193.0 183.8 L1195.1 184.1 L1197.2 184.4 L1199.4 184.6 L1201.4 184.8 L1203.5 184.9 L1205.6 185.0 L1207.8 185.1 L1210.0 185.2 L1212.1 185.4 L1214.3 185.5 L1216.3 185.7 L1218.3 186.0 L1220.5 186.4 L1222.6 186.8 L1224.7 187.3 L1226.8 187.9 L1228.8 188.4 L1230.6 189.0 L1232.4 189.5 L1234.5 190.2 L1236.3 190.9 L1238.1 191.6 L1240.0 192.3 L1241.5 192.7 L1242.9 193.1 L1244.3 193.6 L1245.8 194.1 L1247.2 194.6 L1248.5 195.2 L1249.9 195.8 L1251.3 196.5 L1252.6 197.1 L1253.9 197.9 L1255.2 198.6 L1256.5 199.4 L1257.7 200.2 L1259.0 201.0 L1260.2 201.9 L1261.4 202.7 L1262.6 203.7 L1263.7 204.6 L1264.9 205.6 L1266.0 206.6 L1267.1 207.6 L1268.2 208.6 L1269.3 209.7 L1270.3 210.8 L1271.3 211.9 L1272.4 213.0 L1273.3 214.1 L1274.3 215.3 L1275.3 216.5 L1276.2 217.7 L1277.1 218.9 L1278.0 220.1 L1278.9 221.4 L1279.7 222.6 L1280.5 223.9 L1281.3 225.2 L1282.1 226.5 L1282.9 227.8 L1283.6 229.1 L1284.3 230.5 L1285.0 231.8 L1285.7 233.1 L1286.4 234.5 L1287.0 235.9 L1287.6 237.2 L1288.2 238.6 L1288.8 240.0 L1289.3 241.4 L1289.8 242.8 L1290.3 244.2 L1290.8 245.6 L1291.3 247.0 L1291.8 248.4 L1292.2 249.9 L1292.7 251.3 L1293.1 252.7 L1293.5 254.2 L1293.8 255.6 L1294.2 257.1 L1294.6 258.5 L1294.9 260.0 L1295.2 261.4 L1295.6 262.9 L1295.9 264.4 L1296.2 265.8 L1296.5 267.3 L1296.7 268.8 L1297.0 270.3 L1297.3 271.7 L1297.5 273.2 L1297.8 274.7 L1298.0 276.2 L1298.3 277.7 L1298.5 279.2 L1298.7 280.7 L1298.9 282.2 L1299.2 283.7 L1299.4 285.2 L1299.6 286.7 L1299.8 288.2 L1300.0 289.6 L1300.2 291.1 L1300.4 292.6 L1300.6 294.1 L1300.8 295.6 L1301.0 297.1 L1301.2 298.6 L1301.4 300.1 L1301.6 301.6 L1301.8 303.1 L1302.0 304.6 L1302.2 306.1 L1302.4 307.6 L1302.6 309.1 L1302.7 310.6 L1302.9 312.1 L1303.1 313.6 L1303.3 315.1 L1303.5 316.6 L1303.7 318.0 L1303.8 319.5 L1304.0 321.0 L1304.2 322.5 L1304.4 324.0 L1304.6 325.5 L1304.7 327.0 L1304.9 328.5 L1305.1 330.0 L1305.3 331.5 L1305.4 333.0 L1305.6 334.5 L1305.8 336.0 L1305.9 337.5 L1306.1 339.0 L1306.3 340.4 L1306.4 341.9 L1306.6 343.4 L1306.8 344.9 L1306.9 346.4 L1307.1 347.9 L1307.2 349.4 L1307.4 350.9 L1307.6 352.4 L1307.7 353.9 L1307.9 355.4 L1308.0 356.9 L1308.2 358.4 L1308.3 359.9 L1308.5 361.3 L1308.6 362.8 L1308.8 364.3 L1308.9 365.8 L1309.1 367.3 L1309.2 368.8 L1309.4 370.3 L1309.5 371.8 L1309.7 373.3 L1309.8 374.8 L1309.9 376.3 L1310.1 377.8 L1310.2 379.3 L1310.4 380.7 L1310.5 382.2 L1310.6 383.7 L1310.8 385.2 L1310.9 386.7 L1311.0 388.2 L1311.2 389.7 L1311.3 391.2 L1311.4 392.7 L1311.6 394.2 L1311.7 395.7 L1311.8 397.2 L1312.0 398.7 L1312.1 400.1 L1312.2 401.6 L1312.3 403.1 L1312.5 404.6 L1312.6 406.1 L1312.7 407.6 L1312.8 409.1 L1313.0 410.6 L1313.1 412.1 L1313.2 413.6 L1313.3 415.1 L1313.4 416.6 L1313.5 418.1 L1313.7 419.6 L1313.8 421.0 L1313.9 422.5 L1314.0 424.0 L1314.1 425.5 L1314.2 427.0 L1314.3 428.5 L1314.5 430.0 L1314.6 431.5 L1314.7 433.0 L1314.8 434.5 L1314.9 436.0 L1315.0 437.5 L1315.1 439.0 L1315.2 440.5 L1315.3 442.0 L1315.4 443.4 L1315.5 444.9 L1315.6 446.4 L1315.7 447.9 L1315.8 449.4 L1315.9 450.9 L1316.0 452.4 L1316.1 453.9 L1316.2 455.4 L1316.3 456.9 L1316.4 458.4 L1316.5 459.9 L1316.6 461.4 L1316.7 462.9 L1316.8 464.4 L1316.9 465.9 L1317.0 467.4 L1317.1 468.8 L1317.2 470.3 L1317.3 471.8 L1317.4 473.3 L1317.5 474.8 L1317.5 476.3 L1317.6 477.8 L1317.7 479.3 L1317.8 480.8 L1317.9 482.3 L1318.0 483.8 L1318.1 485.3 L1318.2 486.8 L1318.2 488.3 L1318.3 489.8 L1318.4 491.3 L1318.5 492.8 L1318.6 494.3 L1318.7 495.8 L1318.7 497.3 L1318.8 498.8 L1318.9 500.3 L1319.0 501.8 L1319.1 503.3 L1319.2 504.8 L1319.2 506.3 L1319.3 507.8 L1319.4 509.3 L1319.5 510.8 L1319.5 512.3 L1319.6 513.8 L1319.7 515.3 L1319.8 516.8 L1319.8 518.3 L1319.9 519.8 L1320.0 521.3 L1320.1 522.8 L1320.1 524.3 L1320.2 525.8 L1320.3 527.3 L1320.4 528.8 L1320.4 530.3 L1320.5 531.8 L1320.6 533.3 L1320.6 534.8 L1320.7 536.3 L1320.8 537.8 L1320.9 539.3 L1320.9 540.8 L1321.0 542.3 L1321.1 543.8 L1321.1 545.3 L1321.2 546.8 L1321.3 548.3 L1321.3 549.8 L1321.4 551.3 L1321.5 552.8 L1321.5 554.3 L1321.6 555.8 L1321.7 557.3 L1321.7 558.8 L1321.8 560.3 L1321.9 561.8 L1321.9 563.3 L1322.0 564.8 L1322.1 566.3 L1322.1 567.8 L1322.2 569.3 L1322.2 570.8 L1322.3 572.3 L1322.4 573.8 L1322.4 575.3 L1322.5 576.8 L1322.6 578.4 L1322.6 579.9 L1322.7 581.4 L1322.7 582.9 L1322.8 584.4 L1322.9 585.9 L1322.9 587.4 L1323.0 588.9 L1323.0 590.4 L1323.1 591.9 L1323.2 593.4 L1323.2 594.9 L1323.3 596.4 L1323.3 597.9 L1323.4 599.4 L1323.4 601.0 L1323.5 602.5 L1323.6 604.0 L1323.6 605.5 L1323.7 607.0 L1323.7 608.5 L1323.8 610.0 L1323.8 611.5 L1323.9 613.0 L1324.0 614.5 L1324.0 616.0 L1324.1 617.5 L1324.1 619.0 L1324.2 620.6 L1324.2 622.1 L1324.3 623.6 L1324.3 625.1 L1324.4 626.6 L1324.4 628.1 L1324.5 629.6 L1324.6 631.1 L1324.6 632.6 L1324.7 634.1 L1324.7 635.6 L1324.8 637.1 L1324.8 638.7 L1324.9 640.2 L1324.9 641.7 L1325.0 643.2 L1325.0 644.7 L1325.1 646.2 L1325.1 647.7 L1325.2 649.2 L1325.2 650.7 L1325.3 652.2 L1325.3 653.7 L1325.4 655.2 L1325.4 656.8 L1325.5 658.3 L1325.5 659.8 L1325.6 661.3 L1325.6 662.8 L1325.7 664.3 L1325.7 665.8 L1325.8 667.3 L1325.8 668.8 L1325.9 670.3 L1325.9 671.8 L1326.0 673.3 L1326.0 674.8 L1326.1 676.4 L1326.1 677.9 L1326.2 679.4 L1326.2 680.9 L1326.3 682.4 L1326.3 683.9 L1326.4 685.4 L1326.4 686.9 L1326.5 688.4 L1326.5 689.9 L1326.6 691.4 L1326.6 692.9 L1326.7 694.4 L1326.7 695.9 L1326.8 697.4 L1326.8 699.0 L1326.9 700.5 L1326.9 702.0 L1327.0 703.5 L1327.0 705.0 L1327.1 706.5 L1327.1 708.0 L1327.2 709.5 L1327.2 711.0 L1327.3 712.5 L1327.3 714.0 L1327.3 715.5 L1327.4 717.0 L1327.4 718.5 L1327.5 720.0 L1327.5 721.5 L1327.6 723.0 L1327.6 724.5 L1327.7 726.0 L1327.7 727.5 L1327.8 729.0 L1327.8 730.5 L1327.9 732.1 L1327.9 733.6 L1328.0 735.1 L1328.0 736.6 L1328.1 738.1 L1328.1 739.6 L1328.2 741.1 L1328.2 742.6 L1328.3 744.1 L1328.3 745.6 L1328.4 747.1 L1328.4 748.6 L1328.4 750.1 L1328.5 751.6 L1328.5 753.1 L1328.6 754.6 L1328.6 756.1 L1328.7 757.6 L1328.7 759.1 L1328.8 760.6 L1328.8 762.1 L1328.9 763.6 L1328.9 765.1 L1329.0 766.6 L1329.0 768.1 L1329.1 769.5 L1329.1 771.0 L1329.2 772.5 L1329.2 774.0 L1329.3 775.5 L1329.3 777.0 L1329.4 778.5 L1329.4 780.0 L1329.5 781.5 L1329.5 783.0 L1329.6 784.5 L1329.6 786.0 L1329.7 787.5 L1329.7 789.0 L1329.8 790.5 L1329.8 792.0 L1329.9 793.5 L1329.9 795.0 L1330.0 796.4 L1330.0 797.9 L1330.1 799.4 L1330.1 800.9 L1330.2 802.4 L1330.2 803.9 L1330.3 805.4 L1330.3 806.9 L1330.4 808.4 L1330.4 809.9 L1330.5 811.3 L1330.5 812.8 L1330.6 814.3 L1330.7 815.8 L1330.7 817.3 L1330.8 818.8 L1330.8 820.3 L1330.9 821.8 L1330.9 823.2 L1331.0 824.7 L1331.0 826.2 L1331.1 827.7 L1331.1 829.2 L1331.2 830.7 L1331.2 832.1 L1331.3 833.6 L1331.4 835.1 L1331.4 836.6 L1331.5 838.1 L1331.5 839.6 L1331.6 841.0 L1331.6 842.5 L1331.7 844.0 L1331.8 845.5 L1331.8 847.0 L1331.9 848.4 L1331.9 849.9 L1332.0 851.4 L1332.0 852.9 L1332.1 854.3 L1332.2 855.8 L1332.2 857.3 L1332.3 858.8 L1332.3 860.2 L1332.4 861.7 L1332.5 863.2 L1332.5 864.7 L1332.6 866.1 L1332.6 867.6 L1332.7 869.1 L1332.8 870.6 L1332.8 872.0 L1332.9 873.5 L1332.9 875.0 L1333.0 876.4 L1333.1 877.9 L1333.1 879.4 L1333.2 880.9 L1333.3 882.3 L1333.3 883.8 L1333.4 885.3 L1333.4 886.7 L1333.5 888.2 L1333.6 889.7 L1333.6 891.1 L1333.7 892.6 L1333.8 894.1 L1333.8 895.5 L1333.9 897.0 L1334.0 898.5 L1334.0 899.9 L1334.1 901.4 L1334.2 902.9 L1334.2 904.4 L1334.3 905.9 L1334.4 907.4 L1334.4 908.9 L1334.5 910.4 L1334.6 912.0 L1334.7 913.5 L1334.7 915.1 L1334.8 916.6 L1334.9 918.2 L1334.9 919.8 L1335.0 921.3 L1335.1 922.9 L1335.2 924.6 L1335.2 926.2 L1335.3 927.8 L1335.4 929.5 L1335.5 931.2 L1335.5 932.9 L1335.6 934.6 L1335.7 936.3 L1335.8 938.0 L1335.9 939.8 L1335.9 941.6 L1336.0 943.4 L1336.1 945.2 L1336.2 947.1 L1336.3 948.9 L1336.3 950.8 L1336.4 952.7 L1336.5 954.6 L1336.6 956.6 L1336.7 958.5 L1336.8 960.5 L1336.8 962.4 L1336.9 964.3 L1337.0 966.2 L1337.1 968.1 L1337.2 969.9 L1337.3 971.7 L1337.4 973.3 L1337.5 975.0 L1337.6 976.5 L1337.7 978.0 L1337.8 979.3 L1337.9 980.6 L1338.0 981.7 L1338.1 982.8 L1338.2 983.7 L1338.3 984.4 L1338.4 985.0 L1338.5 985.5 L1338.6 985.8 L1338.8 985.9 L1338.9 985.8 L1339.0 985.6 L1339.1 985.2 L1339.2 984.6 L1339.4 983.9 L1339.5 983.0 L1339.6 982.0 L1339.8 980.9 L1339.9 979.7 L1340.0 978.3 L1340.2 976.9 L1340.3 975.3 L1340.5 973.7 L1340.6 972.0 L1340.7 970.3 L1340.9 968.5 L1341.0 966.6 L1341.2 964.7 L1341.3 962.8 L1341.4 960.8 L1341.6 958.9 L1341.7 956.9 L1341.8 955.0 L1342.0 953.0 L1342.1 951.1 L1342.2 949.3 L1342.4 947.4 L1342.5 945.6 L1342.6 943.8 L1342.8 942.1 L1342.9 940.3 L1343.0 938.6 L1343.1 936.9 L1343.2 935.3 L1343.4 933.6 L1343.5 932.0 L1343.6 930.4 L1343.7 928.8 L1343.8 927.3 L1343.9 925.7 L1344.0 924.2 L1344.1 922.7 L1344.2 921.1 L1344.3 919.6 L1344.4 918.1 L1344.5 916.7 L1344.6 915.2 L1344.6 913.7 L1344.7 912.2 L1344.8 910.8 L1344.9 909.3 L1344.9 907.8 L1345.0 906.4 L1345.1 904.9 L1345.1 903.5 L1345.2 902.0 L1345.3 900.6 L1345.3 899.2 L1345.4 897.7 L1345.5 896.3 L1345.5 894.8 L1345.6 893.4 L1345.6 891.9 L1345.7 890.5 L1345.7 889.0 L1345.8 887.6 L1345.9 886.1 L1345.9 884.7 L1346.0 883.2 L1346.0 881.7 L1346.1 880.3 L1346.1 878.8 L1346.2 877.3 L1346.2 875.8 L1346.3 874.4 L1346.3 872.9 L1346.4 871.4 L1346.4 869.9 L1346.5 868.4 L1346.5 866.9 L1346.6 865.4 L1346.6 864.0 L1346.7 862.5 L1346.7 861.0 L1346.8 859.5 L1346.8 858.0 L1346.9 856.5 L1346.9 855.0 L1347.0 853.5 L1347.0 852.0 L1347.1 850.4 L1347.1 848.9 L1347.2 847.4 L1347.2 845.9 L1347.3 844.4 L1347.3 842.9 L1347.3 841.4 L1347.4 839.9 L1347.4 838.4 L1347.5 836.9 L1347.5 835.3 L1347.6 833.8 L1347.6 832.3 L1347.7 830.8 L1347.7 829.3 L1347.8 827.8 L1347.8 826.3 L1347.8 824.7 L1347.9 823.2 L1347.9 821.7 L1348.0 820.2 L1348.0 818.7 L1348.1 817.2 L1348.1 815.7 L1348.2 814.1 L1348.2 812.6 L1348.3 811.1 L1348.3 809.6 L1348.3 808.1 L1348.4 806.6 L1348.4 805.1 L1348.5 803.6 L1348.5 802.1 L1348.6 800.5 L1348.6 799.0 L1348.7 797.5 L1348.7 796.0 L1348.7 794.5 L1348.8 793.0 L1348.8 791.5 L1348.9 790.0 L1348.9 788.5 L1349.0 787.0 L1349.0 785.5 L1349.1 784.0 L1349.1 782.5 L1349.2 780.9 L1349.2 779.4 L1349.2 777.9 L1349.3 776.4 L1349.3 774.9 L1349.4 773.4 L1349.4 771.9 L1349.5 770.4 L1349.5 768.9 L1349.6 767.4 L1349.6 765.9 L1349.7 764.4 L1349.7 762.9 L1349.8 761.4 L1349.8 759.9 L1349.8 758.4 L1349.9 756.9 L1349.9 755.4 L1350.0 753.9 L1350.0 752.4 L1350.1 750.9 L1350.1 749.4 L1350.2 747.9 L1350.2 746.4 L1350.3 744.9 L1350.3 743.4 L1350.4 741.9 L1350.4 740.4 L1350.5 738.9 L1350.5 737.4 L1350.6 735.9 L1350.6 734.4 L1350.6 732.9 L1350.7 731.4 L1350.7 729.9 L1350.8 728.4 L1350.8 726.9 L1350.9 725.4 L1350.9 723.9 L1351.0 722.4 L1351.0 720.9 L1351.1 719.4 L1351.1 717.9 L1351.2 716.4 L1351.2 714.9 L1351.3 713.4 L1351.3 711.9 L1351.4 710.4 L1351.4 708.9 L1351.5 707.4 L1351.5 705.9 L1351.6 704.4 L1351.6 702.9 L1351.7 701.4 L1351.7 699.9 L1351.8 698.4 L1351.8 696.9 L1351.9 695.5 L1351.9 694.0 L1352.0 692.5 L1352.0 691.0 L1352.1 689.5 L1352.1 688.0 L1352.2 686.5 L1352.3 685.0 L1352.3 683.5 L1352.4 682.0 L1352.4 680.5 L1352.5 679.0 L1352.5 677.5 L1352.6 676.0 L1352.6 674.5 L1352.7 673.0 L1352.7 671.5 L1352.8 670.0 L1352.8 668.5 L1352.9 667.0 L1352.9 665.5 L1353.0 664.0 L1353.1 662.5 L1353.1 661.0 L1353.2 659.5 L1353.2 658.0 L1353.3 656.5 L1353.3 655.0 L1353.4 653.5 L1353.4 652.0 L1353.5 650.5 L1353.6 649.0 L1353.6 647.5 L1353.7 646.0 L1353.7 644.5 L1353.8 643.0 L1353.8 641.5 L1353.9 640.0 L1354.0 638.5 L1354.0 637.0 L1354.1 635.5 L1354.1 634.0 L1354.2 632.5 L1354.3 631.0 L1354.3 629.5 L1354.4 628.0 L1354.4 626.5 L1354.5 625.0 L1354.6 623.5 L1354.6 622.0 L1354.7 620.5 L1354.7 619.0 L1354.8 617.5 L1354.9 616.0 L1354.9 614.5 L1355.0 613.0 L1355.1 611.5 L1355.1 610.0 L1355.2 608.5 L1355.2 607.0 L1355.3 605.5 L1355.4 604.0 L1355.4 602.5 L1355.5 601.0 L1355.6 599.5 L1355.6 598.0 L1355.7 596.5 L1355.8 595.0 L1355.8 593.5 L1355.9 592.0 L1355.9 590.5 L1356.0 589.0 L1356.1 587.5 L1356.1 586.0 L1356.2 584.5 L1356.3 583.0 L1356.3 581.5 L1356.4 580.0 L1356.5 578.4 L1356.5 576.9 L1356.6 575.4 L1356.7 573.9 L1356.8 572.4 L1356.8 570.9 L1356.9 569.4 L1357.0 567.9 L1357.0 566.4 L1357.1 564.9 L1357.2 563.4 L1357.2 561.9 L1357.3 560.4 L1357.4 558.9 L1357.5 557.4 L1357.5 555.9 L1357.6 554.4 L1357.7 552.9 L1357.7 551.4 L1357.8 549.9 L1357.9 548.4 L1358.0 546.9 L1358.0 545.3 L1358.1 543.8 L1358.2 542.3 L1358.3 540.8 L1358.3 539.3 L1358.4 537.8 L1358.5 536.3 L1358.5 534.8 L1358.6 533.3 L1358.7 531.8 L1358.8 530.3 L1358.9 528.8 L1358.9 527.3 L1359.0 525.8 L1359.1 524.3 L1359.2 522.8 L1359.2 521.3 L1359.3 519.8 L1359.4 518.3 L1359.5 516.8 L1359.5 515.3 L1359.6 513.8 L1359.7 512.3 L1359.8 510.8 L1359.9 509.3 L1359.9 507.8 L1360.0 506.3 L1360.1 504.8 L1360.2 503.3 L1360.3 501.8 L1360.3 500.3 L1360.4 498.8 L1360.5 497.3 L1360.6 495.8 L1360.7 494.3 L1360.8 492.8 L1360.8 491.3 L1360.9 489.8 L1361.0 488.3 L1361.1 486.8 L1361.2 485.3 L1361.3 483.8 L1361.3 482.3 L1361.4 480.8 L1361.5 479.3 L1361.6 477.8 L1361.7 476.3 L1361.8 474.8 L1361.8 473.3 L1361.9 471.8 L1362.0 470.3 L1362.1 468.8 L1362.2 467.3 L1362.3 465.8 L1362.4 464.3 L1362.5 462.8 L1362.5 461.3 L1362.6 459.8 L1362.7 458.3 L1362.8 456.8 L1362.9 455.3 L1363.0 453.8 L1363.1 452.3 L1363.2 450.8 L1363.3 449.4 L1363.4 447.9 L1363.5 446.4 L1363.6 444.9 L1363.7 443.4 L1363.8 441.9 L1363.9 440.4 L1364.0 438.9 L1364.1 437.4 L1364.2 435.9 L1364.3 434.4 L1364.4 432.9 L1364.5 431.4 L1364.6 430.0 L1364.7 428.5 L1364.8 427.0 L1364.9 425.5 L1365.0 424.0 L1365.1 422.5 L1365.3 421.0 L1365.4 419.5 L1365.5 418.0 L1365.6 416.5 L1365.7 415.1 L1365.9 413.6 L1366.0 412.1 L1366.1 410.6 L1366.2 409.1 L1366.4 407.6 L1366.5 406.1 L1366.6 404.6 L1366.8 403.1 L1366.9 401.7 L1367.0 400.2 L1367.2 398.7 L1367.3 397.2 L1367.5 395.7 L1367.6 394.2 L1367.7 392.7 L1367.9 391.2 L1368.0 389.8 L1368.2 388.3 L1368.3 386.8 L1368.5 385.3 L1368.7 383.8 L1368.8 382.3 L1369.0 380.8 L1369.2 379.3 L1369.3 377.9 L1369.5 376.4 L1369.7 374.9 L1369.8 373.4 L1370.0 371.9 L1370.2 370.4 L1370.4 368.9 L1370.6 367.5 L1370.7 366.0 L1370.9 364.5 L1371.1 363.0 L1371.3 361.5 L1371.5 360.0 L1371.7 358.5 L1371.9 357.1 L1372.1 355.6 L1372.3 354.1 L1372.5 352.6 L1372.7 351.1 L1373.0 349.6 L1373.2 348.1 L1373.4 346.7 L1373.6 345.2 L1373.9 343.7 L1374.1 342.2 L1374.3 340.7 L1374.6 339.2 L1374.8 337.8 L1375.0 336.3 L1375.3 334.8 L1375.5 333.3 L1375.8 331.8 L1376.0 330.3 L1376.3 328.8 L1376.6 327.4 L1376.8 325.9 L1377.1 324.4 L1377.4 322.9 L1377.6 321.4 L1377.9 319.9 L1378.2 318.4 L1378.5 317.0 L1378.8 315.5 L1379.1 314.0 L1379.4 312.5 L1379.7 311.0 L1380.0 309.5 L1380.3 308.0 L1380.6 306.6 L1380.9 305.1 L1381.2 303.6 L1381.5 302.1 L1381.9 300.6 L1382.2 299.1 L1382.5 297.7 L1382.8 296.2 L1383.2 294.7 L1383.5 293.2 L1383.9 291.7 L1384.2 290.2 L1384.6 288.7 L1385.0 287.3 L1385.3 285.8 L1385.7 284.3 L1386.1 282.8 L1386.4 281.3 L1386.8 279.8 L1387.2 278.3 L1387.6 276.8 L1388.0 275.4 L1388.4 273.9 L1388.8 272.4 L1389.2 270.9 L1389.6 269.4 L1390.1 268.0 L1390.5 266.5 L1390.9 265.0 L1391.4 263.5 L1391.8 262.1 L1392.3 260.6 L1392.8 259.2 L1393.2 257.7 L1393.7 256.3 L1394.2 254.8 L1394.7 253.4 L1395.3 252.0 L1395.8 250.6 L1396.3 249.2 L1396.9 247.8 L1397.4 246.4 L1398.0 245.0 L1398.6 243.6 L1399.2 242.2 L1399.8 240.9 L1400.4 239.5 L1401.1 238.2 L1401.7 236.9 L1402.4 235.6 L1403.0 234.3 L1403.7 233.0 L1404.4 231.7 L1405.2 230.4 L1405.9 229.2 L1406.7 227.9 L1407.4 226.7 L1408.2 225.5 L1409.0 224.3 L1409.8 223.1 L1410.7 222.0 L1411.5 220.8 L1412.4 219.7 L1413.3 218.5 L1414.2 217.4 L1415.1 216.4 L1416.1 215.3 L1417.0 214.2 L1418.0 213.2 L1419.0 212.2 L1420.1 211.2 L1421.1 210.2 L1422.2 209.3 L1423.3 208.3 L1424.4 207.4 L1425.5 206.5 L1426.7 205.7 L1427.8 204.8 L1429.1 204.0 L1430.3 203.2 L1431.5 202.4 L1432.8 201.6 L1434.1 200.9 L1435.4 200.2 L1436.7 199.5 L1438.1 198.8 L1439.4 198.1 L1440.8 197.5 L1442.2 196.9 L1443.6 196.3 L1445.0 195.7 L1446.5 195.1 L1447.9 194.5 L1449.4 194.0 L1450.8 193.4 L1452.3 192.9 L1453.8 192.4 L1455.3 191.9 L1456.8 191.4 L1458.3 191.0 L1459.8 190.5 L1461.3 190.1 L1462.8 189.6 L1464.3 189.2 L1465.8 188.8 L1467.3 188.4 L1468.8 188.0 L1470.3 187.6 L1471.8 187.2 L1473.3 186.8 L1474.8 186.4 L1476.3 186.1 L1477.8 185.7 L1479.3 185.4 L1480.8 185.0 L1482.3 184.7 L1483.8 184.4 L1485.3 184.1 L1486.7 183.7 L1488.2 183.4 L1489.7 183.1 L1491.2 182.8 L1492.7 182.6 L1494.2 182.3 L1495.7 182.0 L1497.1 181.7 L1498.6 181.5 L1500.1 181.2 L1501.6 181.0 L1503.1 180.7 L1504.5 180.5 L1506.0 180.3 L1507.5 180.0 L1509.0 179.8 L1510.4 179.6 L1511.9 179.4 L1513.4 179.2 L1514.9 179.0 L1516.3 178.8 L1517.8 178.6 L1519.3 178.4 L1520.7 178.3 L1522.2 178.1 L1523.7 177.9 L1525.2 177.7 L1526.6 177.6 L1528.1 177.4 L1529.6 177.3 L1531.0 177.1 L1532.5 177.0 L1534.0 176.8 L1535.5 176.7 L1536.9 176.6 L1538.4 176.4 L1539.9 176.3 L1541.3 176.2 L1542.8 176.1 L1544.3 175.9 L1545.8 175.8 L1547.2 175.7 L1548.7 175.6 L1550.2 175.5 L1551.6 175.4 L1553.1 175.3 L1554.6 175.2 L1556.1 175.1 L1557.5 175.0 L1559.0 174.9 L1560.5 174.8 L1562.0 174.8 L1563.5 174.7 L1564.9 174.6 L1566.4 174.5 L1567.9 174.4 L1569.4 174.4 L1570.9 174.3 L1572.3 174.2 L1573.8 174.1 L1575.3 174.1 L1576.8 174.0 L1578.3 173.9 L1579.8 173.8 L1581.3 173.8 L1582.8 173.7 L1584.2 173.6 L1585.7 173.6 L1587.2 173.5 L1588.7 173.4 L1590.2 173.4 L1591.7 173.3 L1593.2 173.2 L1594.7 173.2 L1596.2 173.1 L1597.7 173.0 L1599.2 173.0 L1600.7 172.9 L1602.3 172.8 L1603.8 172.8 L1605.3 172.7 L1606.8 172.6 L1608.3 172.6 L1609.8 172.5 L1611.3 172.4 L1612.9 172.3 L1614.4 172.3 L1615.9 172.2 L1617.4 172.1 L1619.0 172.0 L1620.5 171.9 L1622.0 171.9 L1623.6 171.8 L1625.1 171.7 L1626.7 171.6 L1628.2 171.5 L1630.1 171.4 L1632.1 171.3 L1634.1 171.3 L1636.0 171.2 L1638.0 171.1 L1640.0 171.0 L1642.0 171.0 L1644.1 170.9 L1646.1 170.8 L1648.1 170.7 L1650.1 170.7 L1652.1 170.6 L1654.2 170.5 L1656.2 170.5 L1658.2 170.4 L1660.3 170.3 L1662.3 170.2 L1664.3 170.2 L1666.3 170.1 L1668.3 170.0 L1670.3 169.9 L1672.3 169.9 L1674.3 169.8 L1676.3 169.7 L1678.4 169.6 L1680.4 169.6 L1682.4 169.5 L1684.4 169.4 L1686.4 169.3 L1688.4 169.3 L1690.4 169.2 L1692.4 169.1 L1694.4 169.0 L1696.5 168.9 L1698.5 168.9 L1700.5 168.8 L1702.5 168.7 L1704.5 168.6 L1706.5 168.5 L1708.6 168.4 L1710.7 168.3 L1712.9 168.2 L1715.0 168.1 L1717.2 168.0 L1719.4 167.9 L1721.5 167.8 L1723.7 167.7 L1725.8 167.6 L1727.9 167.5 L1730.0 167.4 L1732.0 167.3 L1734.0 167.2 L1735.9 167.1 L1737.7 167.0 L1739.5 166.9 L1741.1 166.8 L1742.7 166.7 L1745.1 166.5 L1747.3 166.4 L1749.3 166.2 L1751.2 166.1 L1753.1 165.9 L1755.0 165.8 L1757.0 165.6" stroke="#464646" stroke-width="4.8"/>
<path d="M244.8 227.9 L245.7 227.5 L246.8 227.0 L248.1 226.4 L249.9 225.5 L251.9 224.5 L254.1 223.4 L256.4 222.3 L258.7 221.2 L260.8 220.3 L262.8 219.5 L264.8 218.7 L266.8 217.9 L268.8 217.2 L270.8 216.5 L272.9 215.8 L274.9 215.2 L276.9 214.6 L278.9 214.1 L280.9 213.6 L282.9 213.1 L284.9 212.6 L286.9 212.2 L288.9 211.8 L290.9 211.4 L292.9 211.1 L294.9 210.8 L296.9 210.6 L298.9 210.3 L300.9 210.1 L302.9 209.9 L304.9 209.7 L306.9 209.5 L308.9 209.3 L311.0 209.1 L313.0 209.0 L315.0 208.8 L317.0 208.7 L319.0 208.6 L321.1 208.5 L323.1 208.4 L325.1 208.3 L327.1 208.3 L329.1 208.2 L331.0 208.2 L333.2 208.2 L335.4 208.2 L337.5 208.2 L339.7 208.3 L342.0 208.3 L343.9 208.3 L345.9 208.3 L347.9 208.3 L350.0 208.3 L352.1 208.3 L354.2 208.3 L356.4 208.3 L358.5 208.3 L360.5 208.3 L362.5 208.3 L364.6 208.3 L366.6 208.4 L368.7 208.4 L370.8 208.4 L372.9 208.5 L374.9 208.5 L377.0 208.6 L379.1 208.7 L381.2 208.8 L383.3 208.9 L385.5 209.0 L387.6 209.1 L389.7 209.3 L391.7 209.4 L393.7 209.6 L395.6 209.8 L397.8 210.1 L399.9 210.3 L401.9 210.6 L403.9 210.9 L405.9 211.3 L407.9 211.7 L410.0 212.1 L412.0 212.6 L414.1 213.1 L416.1 213.7 L418.2 214.2 L420.2 214.8 L422.3 215.4 L424.4 216.0 L426.6 216.6 L428.7 217.2 L430.7 217.9 L432.6 218.5 L434.8 219.3 L436.9 220.1 L439.0 220.9 L441.0 221.6 L443.4 222.3 L445.6 222.8 L448.0 223.3 L449.9 223.6 L451.8 223.9 L453.8 224.1 L456.0 224.3 L458.0 224.5 L460.1 224.7 L462.4 224.9 L464.6 225.1 L466.9 225.2 L469.2 225.4 L471.2 225.5 L473.3 225.6 L475.4 225.7 L477.5 225.8 L479.6 225.9 L481.7 226.1 L483.8 226.2 L485.9 226.3 L488.0 226.5 L490.1 226.6 L492.2 226.8 L494.2 227.0 L496.3 227.3 L498.4 227.6 L500.5 228.0 L502.6 228.5 L504.7 229.1 L506.8 229.7 L508.9 230.3 L510.9 231.0 L512.9 231.6 L515.0 232.3 L517.1 232.9 L519.1 233.6 L521.1 234.3 L523.0 235.1 L524.9 235.9 L526.3 236.6 L527.8 237.3 L529.2 238.0 L530.6 238.7 L531.9 239.5 L533.3 240.2 L534.6 241.0 L536.0 241.8 L537.3 242.6 L538.5 243.4 L539.8 244.3 L541.0 245.1 L542.3 246.0 L543.5 246.9 L544.7 247.8 L545.9 248.7 L547.0 249.6 L548.2 250.6 L549.3 251.5 L550.4 252.5 L551.5 253.5 L552.6 254.5 L553.6 255.5 L554.7 256.5 L555.7 257.6 L556.7 258.6 L557.7 259.7 L558.7 260.7 L559.7 261.8 L560.7 262.9 L561.6 264.0 L562.5 265.2 L563.5 266.3 L564.4 267.4 L565.3 268.6 L566.1 269.7 L567.0 270.9 L567.8 272.1 L568.7 273.3 L569.5 274.5 L570.3 275.7 L571.1 276.9 L571.9 278.2 L572.7 279.4 L573.4 280.7 L574.2 281.9 L574.9 283.2 L575.7 284.5 L576.4 285.8 L577.1 287.1 L577.8 288.4 L578.5 289.7 L579.1 291.0 L579.8 292.3 L580.5 293.6 L581.1 295.0 L581.7 296.3 L582.4 297.7 L583.0 299.0 L583.6 300.4 L584.2 301.8 L584.8 303.2 L585.4 304.5 L585.9 305.9 L586.5 307.3 L587.0 308.7 L587.6 310.1 L588.1 311.5 L588.6 312.9 L589.2 314.4 L589.7 315.8 L590.2 317.2 L590.7 318.6 L591.2 320.1 L591.7 321.5 L592.1 322.9 L592.6 324.4 L593.1 325.8 L593.5 327.3 L594.0 328.7 L594.5 330.2 L594.9 331.6 L595.3 333.1 L595.8 334.6 L596.2 336.0 L596.6 337.5 L597.0 339.0 L597.4 340.4 L597.9 341.9 L598.3 343.4 L598.7 344.8 L599.1 346.3 L599.5 347.8 L599.8 349.2 L600.2 350.7 L600.6 352.2 L601.0 353.6 L601.4 355.1 L601.7 356.6 L602.1 358.1 L602.5 359.5 L602.8 361.0 L603.2 362.5 L603.5 363.9 L603.9 365.4 L604.2 366.9 L604.6 368.4 L604.9 369.8 L605.2 371.3 L605.6 372.8 L605.9 374.3 L606.2 375.7 L606.6 377.2 L606.9 378.7 L607.2 380.1 L607.5 381.6 L607.8 383.1 L608.1 384.6 L608.4 386.1 L608.7 387.5 L609.0 389.0 L609.3 390.5 L609.6 392.0 L609.9 393.4 L610.2 394.9 L610.5 396.4 L610.8 397.9 L611.0 399.3 L611.3 400.8 L611.6 402.3 L611.9 403.8 L612.1 405.3 L612.4 406.7 L612.6 408.2 L612.9 409.7 L613.2 411.2 L613.4 412.6 L613.7 414.1 L613.9 415.6 L614.2 417.1 L614.4 418.6 L614.6 420.0 L614.9 421.5 L615.1 423.0 L615.3 424.5 L615.6 426.0 L615.8 427.5 L616.0 428.9 L616.2 430.4 L616.5 431.9 L616.7 433.4 L616.9 434.9 L617.1 436.3 L617.3 437.8 L617.5 439.3 L617.8 440.8 L618.0 442.3 L618.2 443.8 L618.4 445.2 L618.6 446.7 L618.8 448.2 L619.0 449.7 L619.2 451.2 L619.3 452.7 L619.5 454.2 L619.7 455.6 L619.9 457.1 L620.1 458.6 L620.3 460.1 L620.5 461.6 L620.6 463.1 L620.8 464.5 L621.0 466.0 L621.2 467.5 L621.3 469.0 L621.5 470.5 L621.7 472.0 L621.8 473.5 L622.0 475.0 L622.2 476.4 L622.3 477.9 L622.5 479.4 L622.7 480.9 L622.8 482.4 L623.0 483.9 L623.1 485.4 L623.3 486.9 L623.4 488.3 L623.6 489.8 L623.7 491.3 L623.9 492.8 L624.0 494.3 L624.2 495.8 L624.3 497.3 L624.5 498.8 L624.6 500.3 L624.8 501.8 L624.9 503.2 L625.1 504.7 L625.2 506.2 L625.3 507.7 L625.5 509.2 L625.6 510.7 L625.7 512.2 L625.9 513.7 L626.0 515.2 L626.2 516.7 L626.3 518.2 L626.4 519.6 L626.6 521.1 L626.7 522.6 L626.8 524.1 L626.9 525.6 L627.1 527.1 L627.2 528.6 L627.3 530.1 L627.5 531.6 L627.6 533.1 L627.7 534.6 L627.8 536.1 L628.0 537.5 L628.1 539.0 L628.2 540.5 L628.3 542.0 L628.5 543.5 L628.6 545.0 L628.7 546.5 L628.8 548.0 L629.0 549.5 L629.1 551.0 L629.2 552.5 L629.3 554.0 L629.4 555.5 L629.6 557.0 L629.7 558.5 L629.8 560.0 L629.9 561.5 L630.1 562.9 L630.2 564.4 L630.3 565.9 L630.4 567.4 L630.6 568.9 L630.7 570.4 L630.8 571.9 L630.9 573.4 L631.0 574.9 L631.2 576.4 L631.3 577.9 L631.4 579.4 L631.5 580.9 L631.7 582.4 L631.8 583.9 L631.9 585.4 L632.0 586.9 L632.2 588.4 L632.3 589.9 L632.4 591.4 L632.5 592.9 L632.6 594.4 L632.8 595.8 L632.9 597.3 L633.0 598.8 L633.1 600.3 L633.3 601.8 L633.4 603.3 L633.5 604.8 L633.6 606.3 L633.8 607.8 L633.9 609.3 L634.0 610.8 L634.1 612.3 L634.2 613.8 L634.4 615.3 L634.5 616.8 L634.6 618.3 L634.7 619.8 L634.9 621.3 L635.0 622.8 L635.1 624.3 L635.2 625.8 L635.3 627.3 L635.5 628.8 L635.6 630.3 L635.7 631.8 L635.8 633.3 L636.0 634.8 L636.1 636.3 L636.2 637.8 L636.3 639.3 L636.4 640.8 L636.6 642.3 L636.7 643.8 L636.8 645.3 L636.9 646.8 L637.0 648.3 L637.2 649.8 L637.3 651.3 L637.4 652.8 L637.5 654.3 L637.6 655.8 L637.8 657.3 L637.9 658.8 L638.0 660.3 L638.1 661.8 L638.2 663.3 L638.4 664.8 L638.5 666.3 L638.6 667.8 L638.7 669.2 L638.8 670.7 L639.0 672.2 L639.1 673.7 L639.2 675.2 L639.3 676.7 L639.4 678.2 L639.5 679.7 L639.7 681.2 L639.8 682.7 L639.9 684.2 L640.0 685.7 L640.1 687.2 L640.2 688.7 L640.4 690.2 L640.5 691.7 L640.6 693.2 L640.7 694.7 L640.8 696.2 L640.9 697.7 L641.0 699.2 L641.1 700.7 L641.3 702.2 L641.4 703.7 L641.5 705.2 L641.6 706.7 L641.7 708.2 L641.8 709.7 L641.9 711.2 L642.0 712.7 L642.2 714.2 L642.3 715.7 L642.4 717.2 L642.5 718.7 L642.6 720.2 L642.7 721.7 L642.8 723.2 L642.9 724.7 L643.0 726.2 L643.1 727.7 L643.2 729.2 L643.4 730.7 L643.5 732.2 L643.6 733.7 L643.7 735.2 L643.8 736.7 L643.9 738.2 L644.0 739.7 L644.1 741.2 L644.2 742.7 L644.3 744.2 L644.4 745.7 L644.5 747.2 L644.6 748.7 L644.7 750.2 L644.8 751.7 L644.9 753.2 L645.0 754.7 L645.1 756.2 L645.2 757.7 L645.3 759.2 L645.4 760.7 L645.5 762.2 L645.6 763.7 L645.7 765.2 L645.8 766.7 L645.9 768.2 L646.0 769.7 L646.1 771.2 L646.2 772.7 L646.3 774.2 L646.4 775.7 L646.5 777.2 L646.6 778.7 L646.7 780.2 L646.7 781.7 L646.8 783.2 L646.9 784.7 L647.0 786.2 L647.1 787.7 L647.2 789.2 L647.3 790.7 L647.4 792.2 L647.5 793.7 L647.6 795.2 L647.7 796.7 L647.7 798.2 L647.8 799.7 L647.9 801.2 L648.0 802.7 L648.1 804.2 L648.2 805.7 L648.3 807.2 L648.3 808.7 L648.4 810.2 L648.5 811.7 L648.6 813.2 L648.7 814.7 L648.8 816.2 L648.9 817.7 L648.9 819.2 L649.0 820.7 L649.1 822.2 L649.2 823.7 L649.3 825.2 L649.3 826.7 L649.4 828.2 L649.5 829.7 L649.6 831.2 L649.7 832.7 L649.8 834.2 L649.8 835.7 L649.9 837.2 L650.0 838.7 L650.1 840.2 L650.1 841.7 L650.2 843.2 L650.3 844.7 L650.4 846.2 L650.5 847.7 L650.5 849.2 L650.6 850.7 L650.7 852.2 L650.8 853.7 L650.9 855.2 L650.9 856.7 L651.0 858.2 L651.1 859.7 L651.2 861.2 L651.2 862.7 L651.3 864.2 L651.4 865.7 L651.5 867.2 L651.5 868.7 L651.6 870.2 L651.7 871.7 L651.8 873.2 L651.8 874.7 L651.9 876.1 L652.0 877.6 L652.1 879.1 L652.1 880.6 L652.2 882.1 L652.3 883.6 L652.4 885.1 L652.4 886.6 L652.5 888.1 L652.6 889.6 L652.7 891.1 L652.7 892.6 L652.8 894.1 L652.9 895.6 L653.0 897.1 L653.0 898.6 L653.1 900.1 L653.2 901.6 L653.3 903.1 L653.3 904.6 L653.4 906.1 L653.5 907.6 L653.5 909.1 L653.6 910.6 L653.7 912.1 L653.8 913.6 L653.8 915.1 L653.9 916.6 L654.0 918.1 L654.1 919.6 L654.1 921.1 L654.2 922.6 L654.3 924.1 L654.4 925.6 L654.4 927.1 L654.5 928.6 L654.6 930.1 L654.7 931.6 L654.7 933.1 L654.8 934.6 L654.9 936.1 L655.0 937.6 L655.0 939.1 L655.1 940.6 L655.2 942.1 L655.3 943.6 L655.3 945.0 L655.4 946.5 L655.5 948.0 L655.6 949.5 L655.6 951.0 L655.7 952.5 L655.8 954.0 L655.9 955.5 L655.9 957.0 L656.0 958.5 L656.1 960.0 L656.2 961.5 L656.2 963.0 L656.3 964.5 L656.4 966.0 L656.5 967.5 L656.6 969.0 L656.6 970.5 L656.7 972.0 L656.8 973.5 L656.9 975.0 L656.9 976.5 L657.0 978.0 L657.1 979.5 L657.2 981.0 L657.3 982.5 L657.3 984.0 L657.4 985.5 L657.5 987.0 L657.6 988.5 L657.7 990.0 L657.7 991.5 L657.8 993.0 L657.9 994.5 L658.0 996.0 L658.1 997.5 L658.1 999.0 L658.2 1000.5 L658.3 1002.0 L658.4 1003.5 L658.5 1005.0 L658.5 1006.5 L658.6 1008.0 L658.7 1009.5 L658.8 1011.0 L658.9 1012.5 L659.0 1014.0 L659.0 1015.5 L659.1 1017.0 L659.2 1018.5 L659.3 1020.0 L659.4 1021.5 L659.5 1023.0 L659.5 1024.5 L659.6 1026.0 L659.7 1027.5 L659.8 1029.0 L659.9 1030.5 L660.0 1032.0 L660.0 1033.5 L660.1 1035.0 L660.2 1036.5 L660.3 1038.0 L660.4 1039.5 L660.5 1041.0 L660.6 1042.5 L660.7 1044.0 L660.7 1045.5 L660.8 1047.0 L660.9 1048.5 L661.0 1050.0 L661.1 1051.5 L661.2 1053.0 L661.3 1054.5 L661.4 1056.0 L661.5 1057.5 L661.5 1059.0 L661.6 1060.5 L661.7 1062.0 L661.8 1063.5 L661.9 1065.0 L662.0 1066.5 L662.1 1068.1 L662.2 1069.6 L662.3 1071.1 L662.4 1072.6 L662.5 1074.1 L662.6 1075.6 L662.6 1077.1 L662.7 1078.6 L662.8 1080.1 L662.9 1081.6 L663.0 1083.1 L663.1 1084.6 L663.2 1086.1 L663.3 1087.6 L663.4 1089.1 L663.5 1090.6 L663.6 1092.2 L663.7 1093.7 L663.8 1095.2 L663.9 1096.7 L664.0 1098.2 L664.1 1099.7 L664.2 1101.2 L664.3 1102.7 L664.4 1104.2 L664.5 1105.7 L664.6 1107.2 L664.7 1108.7 L664.8 1110.2 L664.9 1111.7 L665.0 1113.2 L665.1 1114.7 L665.3 1116.2 L665.4 1117.7 L665.5 1119.2 L665.6 1120.7 L665.7 1122.1 L665.8 1123.6 L665.9 1125.1 L666.1 1126.6 L666.2 1128.0 L666.3 1129.5 L666.4 1131.0 L666.6 1132.4 L666.7 1133.9 L666.8 1135.3 L667.0 1136.8 L667.1 1138.2 L667.2 1139.7 L667.4 1141.1 L667.5 1142.5 L667.7 1144.0 L667.8 1145.4 L668.0 1146.9 L668.1 1148.4 L668.3 1149.8 L668.5 1151.3 L668.6 1152.8 L668.8 1154.2 L669.0 1155.7 L669.1 1157.2 L669.3 1158.8 L669.5 1160.3 L669.7 1161.8 L669.9 1163.4 L670.1 1165.0 L670.3 1166.6 L670.5 1168.2 L670.7 1169.8 L670.9 1171.4 L671.1 1173.1 L671.4 1174.8 L671.6 1176.5 L671.8 1178.2 L672.1 1179.9 L672.4 1181.6 L672.7 1183.3 L673.0 1185.1 L673.3 1186.8 L673.6 1188.5 L674.0 1190.1 L674.4 1191.7 L674.8 1193.0 L675.2 1194.1 L675.6 1195.0 L676.0 1195.4 L676.4 1195.5 L676.8 1195.1 L677.2 1194.4 L677.6 1193.3 L678.0 1192.0 L678.3 1190.5 L678.7 1188.9 L679.0 1187.2 L679.3 1185.4 L679.5 1183.6 L679.8 1181.8 L680.0 1180.0 L680.2 1178.2 L680.3 1176.4 L680.5 1174.7 L680.7 1172.9 L680.9 1171.2 L681.0 1169.5 L681.2 1167.9 L681.4 1166.3 L681.6 1164.7 L681.8 1163.2 L682.1 1161.7 L682.3 1160.2 L682.5 1158.8 L682.7 1157.3 L682.9 1155.9 L683.1 1154.4 L683.4 1153.0 L683.6 1151.5 L683.8 1150.1 L683.9 1148.6 L684.1 1147.1 L684.3 1145.7 L684.5 1144.2 L684.7 1142.8 L684.9 1141.3 L685.0 1139.8 L685.2 1138.4 L685.4 1136.9 L685.5 1135.4 L685.7 1134.0 L685.8 1132.5 L686.0 1131.0 L686.1 1129.5 L686.3 1128.1 L686.4 1126.6 L686.5 1125.1 L686.7 1123.6 L686.8 1122.1 L686.9 1120.7 L687.0 1119.2 L687.2 1117.7 L687.3 1116.2 L687.4 1114.7 L687.5 1113.2 L687.6 1111.7 L687.7 1110.2 L687.8 1108.8 L687.9 1107.3 L688.0 1105.8 L688.1 1104.3 L688.2 1102.8 L688.3 1101.3 L688.4 1099.8 L688.5 1098.3 L688.6 1096.8 L688.7 1095.3 L688.8 1093.8 L688.9 1092.3 L688.9 1090.8 L689.0 1089.3 L689.1 1087.8 L689.2 1086.3 L689.3 1084.8 L689.3 1083.3 L689.4 1081.8 L689.5 1080.3 L689.6 1078.8 L689.6 1077.3 L689.7 1075.8 L689.8 1074.3 L689.9 1072.8 L689.9 1071.3 L690.0 1069.8 L690.1 1068.2 L690.2 1066.7 L690.2 1065.2 L690.3 1063.7 L690.4 1062.2 L690.4 1060.7 L690.5 1059.2 L690.6 1057.7 L690.7 1056.2 L690.7 1054.7 L690.8 1053.2 L690.9 1051.7 L691.0 1050.2 L691.0 1048.7 L691.1 1047.2 L691.2 1045.7 L691.3 1044.2 L691.4 1042.7 L691.4 1041.2 L691.5 1039.7 L691.6 1038.2 L691.7 1036.7 L691.8 1035.2 L691.8 1033.6 L691.9 1032.1 L692.0 1030.6 L692.1 1029.1 L692.2 1027.6 L692.3 1026.1 L692.3 1024.6 L692.4 1023.1 L692.5 1021.6 L692.6 1020.1 L692.7 1018.6 L692.8 1017.1 L692.9 1015.6 L692.9 1014.1 L693.0 1012.6 L693.1 1011.1 L693.2 1009.6 L693.3 1008.1 L693.4 1006.6 L693.5 1005.1 L693.6 1003.6 L693.7 1002.1 L693.8 1000.6 L693.8 999.1 L693.9 997.6 L694.0 996.1 L694.1 994.6 L694.2 993.1 L694.3 991.6 L694.4 990.1 L694.5 988.6 L694.6 987.1 L694.7 985.6 L694.8 984.1 L694.9 982.6 L695.0 981.1 L695.1 979.6 L695.2 978.1 L695.3 976.6 L695.4 975.1 L695.5 973.6 L695.6 972.1 L695.6 970.6 L695.7 969.1 L695.8 967.6 L695.9 966.1 L696.0 964.6 L696.1 963.1 L696.2 961.6 L696.3 960.1 L696.4 958.6 L696.5 957.1 L696.7 955.6 L696.8 954.1 L696.9 952.6 L697.0 951.1 L697.1 949.6 L697.2 948.1 L697.3 946.6 L697.4 945.1 L697.5 943.6 L697.6 942.1 L697.7 940.7 L697.8 939.2 L697.9 937.7 L698.0 936.2 L698.1 934.7 L698.2 933.2 L698.3 931.7 L698.4 930.2 L698.5 928.7 L698.6 927.2 L698.7 925.7 L698.8 924.2 L699.0 922.7 L699.1 921.2 L699.2 919.7 L699.3 918.2 L699.4 916.7 L699.5 915.2 L699.6 913.7 L699.7 912.2 L699.8 910.7 L699.9 909.2 L700.0 907.7 L700.1 906.2 L700.3 904.7 L700.4 903.2 L700.5 901.7 L700.6 900.2 L700.7 898.7 L700.8 897.2 L700.9 895.8 L701.0 894.3 L701.1 892.8 L701.2 891.3 L701.4 889.8 L701.5 888.3 L701.6 886.8 L701.7 885.3 L701.8 883.8 L701.9 882.3 L702.0 880.8 L702.1 879.3 L702.3 877.8 L702.4 876.3 L702.5 874.8 L702.6 873.3 L702.7 871.8 L702.8 870.3 L702.9 868.8 L703.0 867.3 L703.2 865.8 L703.3 864.3 L703.4 862.8 L703.5 861.3 L703.6 859.9 L703.7 858.4 L703.8 856.9 L704.0 855.4 L704.1 853.9 L704.2 852.4 L704.3 850.9 L704.4 849.4 L704.5 847.9 L704.6 846.4 L704.8 844.9 L704.9 843.4 L705.0 841.9 L705.1 840.4 L705.2 838.9 L705.3 837.4 L705.5 835.9 L705.6 834.4 L705.7 832.9 L705.8 831.4 L705.9 829.9 L706.0 828.4 L706.1 826.9 L706.3 825.5 L706.4 824.0 L706.5 822.5 L706.6 821.0 L706.7 819.5 L706.8 818.0 L707.0 816.5 L707.1 815.0 L707.2 813.5 L707.3 812.0 L707.4 810.5 L707.5 809.0 L707.6 807.5 L707.8 806.0 L707.9 804.5 L708.0 803.0 L708.1 801.5 L708.2 800.0 L708.3 798.5 L708.4 797.0 L708.6 795.5 L708.7 794.0 L708.8 792.5 L708.9 791.1 L709.0 789.6 L709.1 788.1 L709.3 786.6 L709.4 785.1 L709.5 783.6 L709.6 782.1 L709.7 780.6 L709.8 779.1 L709.9 777.6 L710.1 776.1 L710.2 774.6 L710.3 773.1 L710.4 771.6 L710.5 770.1 L710.6 768.6 L710.7 767.1 L710.9 765.6 L711.0 764.1 L711.1 762.6 L711.2 761.1 L711.3 759.6 L711.4 758.1 L711.5 756.6 L711.6 755.1 L711.8 753.6 L711.9 752.1 L712.0 750.6 L712.1 749.1 L712.2 747.6 L712.3 746.1 L712.4 744.6 L712.5 743.2 L712.7 741.7 L712.8 740.2 L712.9 738.7 L713.0 737.2 L713.1 735.7 L713.2 734.2 L713.3 732.7 L713.4 731.2 L713.5 729.7 L713.7 728.2 L713.8 726.7 L713.9 725.2 L714.0 723.7 L714.1 722.2 L714.2 720.7 L714.3 719.2 L714.4 717.7 L714.5 716.2 L714.6 714.7 L714.7 713.2 L714.8 711.7 L715.0 710.2 L715.1 708.7 L715.2 707.2 L715.3 705.7 L715.4 704.2 L715.5 702.7 L715.6 701.2 L715.7 699.7 L715.8 698.2 L715.9 696.7 L716.0 695.2 L716.1 693.7 L716.2 692.2 L716.4 690.7 L716.5 689.2 L716.6 687.7 L716.7 686.2 L716.8 684.7 L716.9 683.2 L717.0 681.7 L717.1 680.2 L717.2 678.7 L717.3 677.2 L717.4 675.7 L717.5 674.2 L717.6 672.7 L717.8 671.2 L717.9 669.7 L718.0 668.2 L718.1 666.7 L718.2 665.2 L718.3 663.7 L718.4 662.2 L718.5 660.7 L718.6 659.2 L718.7 657.7 L718.9 656.2 L719.0 654.7 L719.1 653.2 L719.2 651.7 L719.3 650.2 L719.4 648.7 L719.5 647.2 L719.7 645.7 L719.8 644.2 L719.9 642.7 L720.0 641.2 L720.1 639.7 L720.2 638.2 L720.3 636.7 L720.5 635.2 L720.6 633.7 L720.7 632.2 L720.8 630.7 L720.9 629.2 L721.1 627.7 L721.2 626.2 L721.3 624.7 L721.4 623.2 L721.6 621.7 L721.7 620.2 L721.8 618.7 L721.9 617.2 L722.1 615.7 L722.2 614.2 L722.3 612.7 L722.4 611.2 L722.6 609.7 L722.7 608.2 L722.8 606.7 L723.0 605.2 L723.1 603.7 L723.2 602.2 L723.4 600.7 L723.5 599.2 L723.6 597.7 L723.8 596.3 L723.9 594.8 L724.0 593.3 L724.2 591.8 L724.3 590.3 L724.5 588.8 L724.6 587.3 L724.8 585.8 L724.9 584.3 L725.0 582.8 L725.2 581.3 L725.3 579.8 L725.5 578.3 L725.6 576.8 L725.8 575.3 L725.9 573.8 L726.1 572.3 L726.2 570.8 L726.4 569.3 L726.6 567.8 L726.7 566.4 L726.9 564.9 L727.0 563.4 L727.2 561.9 L727.4 560.4 L727.5 558.9 L727.7 557.4 L727.9 555.9 L728.0 554.4 L728.2 552.9 L728.4 551.4 L728.5 549.9 L728.7 548.4 L728.9 547.0 L729.1 545.5 L729.2 544.0 L729.4 542.5 L729.6 541.0 L729.8 539.5 L729.9 538.0 L730.1 536.5 L730.3 535.0 L730.5 533.5 L730.7 532.1 L730.9 530.6 L731.1 529.1 L731.3 527.6 L731.5 526.1 L731.7 524.6 L731.9 523.1 L732.1 521.6 L732.3 520.2 L732.5 518.7 L732.7 517.2 L732.9 515.7 L733.1 514.2 L733.3 512.7 L733.5 511.2 L733.7 509.8 L733.9 508.3 L734.1 506.8 L734.3 505.3 L734.6 503.8 L734.8 502.3 L735.0 500.9 L735.2 499.4 L735.5 497.9 L735.7 496.4 L735.9 494.9 L736.2 493.5 L736.4 492.0 L736.6 490.5 L736.9 489.0 L737.1 487.5 L737.3 486.1 L737.6 484.6 L737.8 483.1 L738.1 481.6 L738.3 480.1 L738.6 478.7 L738.8 477.2 L739.1 475.7 L739.3 474.2 L739.6 472.7 L739.9 471.3 L740.1 469.8 L740.4 468.3 L740.6 466.8 L740.9 465.4 L741.2 463.9 L741.5 462.4 L741.7 461.0 L742.0 459.5 L742.3 458.0 L742.6 456.5 L742.9 455.1 L743.1 453.6 L743.4 452.1 L743.7 450.6 L744.0 449.2 L744.3 447.7 L744.6 446.2 L744.9 444.8 L745.2 443.3 L745.5 441.8 L745.8 440.4 L746.1 438.9 L746.4 437.4 L746.8 436.0 L747.1 434.5 L747.4 433.0 L747.7 431.6 L748.0 430.1 L748.4 428.6 L748.7 427.2 L749.0 425.7 L749.3 424.2 L749.7 422.8 L750.0 421.3 L750.4 419.8 L750.7 418.4 L751.1 416.9 L751.4 415.5 L751.8 414.0 L752.1 412.5 L752.5 411.1 L752.8 409.6 L753.2 408.2 L753.5 406.7 L753.9 405.3 L754.3 403.8 L754.7 402.3 L755.0 400.9 L755.4 399.4 L755.8 398.0 L756.2 396.5 L756.6 395.1 L756.9 393.6 L757.3 392.2 L757.7 390.7 L758.1 389.2 L758.5 387.8 L758.9 386.3 L759.3 384.9 L759.7 383.4 L760.1 382.0 L760.6 380.5 L761.0 379.1 L761.4 377.7 L761.8 376.2 L762.3 374.8 L762.7 373.3 L763.1 371.9 L763.6 370.4 L764.0 369.0 L764.5 367.6 L764.9 366.1 L765.4 364.7 L765.8 363.3 L766.3 361.8 L766.8 360.4 L767.2 359.0 L767.7 357.5 L768.2 356.1 L768.7 354.7 L769.2 353.3 L769.7 351.9 L770.2 350.5 L770.7 349.1 L771.3 347.7 L771.8 346.3 L772.3 344.9 L772.9 343.5 L773.4 342.1 L774.0 340.7 L774.5 339.3 L775.1 337.9 L775.7 336.5 L776.3 335.2 L776.9 333.8 L777.5 332.4 L778.1 331.1 L778.7 329.7 L779.3 328.3 L779.9 327.0 L780.6 325.7 L781.2 324.3 L781.9 323.0 L782.5 321.6 L783.2 320.3 L783.9 319.0 L784.6 317.7 L785.3 316.4 L786.0 315.1 L786.7 313.8 L787.4 312.5 L788.1 311.2 L788.9 309.9 L789.6 308.6 L790.4 307.3 L791.2 306.1 L792.0 304.8 L792.8 303.6 L793.6 302.3 L794.4 301.1 L795.2 299.8 L796.0 298.6 L796.9 297.4 L797.7 296.1 L798.6 294.9 L799.5 293.7 L800.4 292.5 L801.3 291.3 L802.2 290.2 L803.1 289.0 L804.1 287.8 L805.0 286.6 L806.0 285.5 L806.9 284.3 L807.9 283.2 L808.9 282.1 L809.9 281.0 L811.0 279.8 L812.0 278.7 L813.1 277.6 L814.1 276.5 L815.2 275.4 L816.3 274.4 L817.4 273.3 L818.5 272.2 L819.6 271.2 L820.8 270.2 L821.9 269.1 L823.1 268.1 L824.8 266.5 L826.5 265.0 L828.2 263.5 L829.9 262.0 L831.5 260.6 L833.1 259.2 L834.9 257.7 L836.6 256.2 L838.3 254.9 L840.0 253.5 L841.9 252.1 L843.8 250.6 L845.8 249.2 L848.0 247.8 L849.7 246.8 L851.5 245.7 L853.3 244.7 L855.2 243.6 L857.2 242.6 L859.1 241.7 L860.9 240.8 L863.2 239.8 L865.4 238.9 L867.6 238.0 L869.8 237.3 L871.9 236.8 L874.7 236.4 L877.3 236.2 L879.5 236.4 L881.1 236.8 L882.3 237.6 L883.4 239.9 L884.0 243.0 L884.2 244.7 L884.4 246.6 L884.4 248.7 L884.5 250.8 L884.5 252.9 L884.6 255.0 L884.7 257.0 L884.8 259.1 L884.9 261.1 L885.0 263.2 L885.1 265.1 L885.2 267.0 L885.4 269.6 L885.6 272.3 L885.9 274.4 L886.1 275.3 L886.3 274.4 L886.6 272.3 L886.8 269.6 L887.0 267.0 L887.1 265.1 L887.2 263.2 L887.3 261.1 L887.4 259.1 L887.5 257.0 L887.6 255.0 L887.7 253.0 L887.8 250.9 L887.9 248.8 L888.0 246.8 L888.1 244.8 L888.3 243.0 L888.6 240.5 L889.0 238.2 L889.5 236.0 L890.2 233.1 L891.0 230.3 L891.6 228.3 L892.4 226.2 L893.2 224.5 L894.2 223.0 L895.5 221.8 L897.6 221.2 L900.3 220.9 L903.1 220.6 L905.3 220.1 L907.6 219.5 L910.0 218.9 L912.3 218.3 L914.3 217.8 L917.1 217.1 L919.8 216.4 L921.6 216.0 L923.7 215.5 L925.8 215.0 L927.9 214.5 L930.0 214.0 L932.0 213.5 L934.0 213.1 L935.9 212.7 L937.9 212.2 L940.0 211.7 L941.9 211.2 L943.9 210.6 L945.9 210.1 L947.9 209.5 L950.0 208.9 L952.1 208.3 L954.1 207.7 L956.2 207.2 L958.3 206.6 L960.4 206.0 L962.5 205.5 L964.6 205.0 L966.7 204.5 L969.0 204.0 L971.2 203.6 L973.5 203.2 L975.7 202.9 L977.9 202.5 L980.0 202.2 L982.0 201.9 L983.9 201.5 L985.8 201.2 L987.8 200.9 L990.0 200.6 L991.9 200.3 L993.9 200.0 L996.1 199.7 L998.3 199.4 L1000.6 199.1 L1002.9 198.7 L1005.3 198.4 L1007.6 198.1 L1009.8 197.8 L1011.8 197.5 L1013.7 197.3 L1015.7 197.0 L1017.6 196.7 L1019.5 196.5 L1021.5 196.2 L1023.5 195.9 L1025.5 195.7 L1027.6 195.4 L1029.7 195.1 L1031.6 194.9 L1033.5 194.6 L1035.4 194.4 L1037.4 194.1 L1039.4 193.9 L1041.5 193.6 L1043.5 193.3 L1045.6 193.1 L1047.6 192.8 L1049.7 192.6 L1051.7 192.3 L1053.7 192.1 L1055.6 191.8 L1057.5 191.6 L1059.6 191.3 L1061.7 191.1 L1063.8 190.8 L1065.9 190.6 L1068.0 190.3 L1070.0 190.0 L1072.0 189.8 L1073.9 189.5 L1075.8 189.3 L1077.6 189.0 L1079.4 188.8 L1081.7 188.5 L1083.8 188.1 L1085.7 187.8 L1087.7 187.5 L1089.8 187.1 L1092.0 186.8 L1093.8 186.6 L1095.7 186.3 L1097.6 186.0 L1099.6 185.8 L1101.6 185.5 L1103.6 185.3 L1105.7 185.1 L1107.8 184.8 L1109.8 184.6 L1111.9 184.4 L1114.0 184.2 L1116.2 184.0 L1118.4 183.9 L1120.6 183.7 L1122.8 183.5 L1125.0 183.4 L1127.2 183.3 L1129.4 183.1 L1131.6 183.0 L1133.8 182.8 L1136.0 182.6 L1138.2 182.5 L1140.3 182.3 L1142.5 182.2 L1144.7 182.0 L1146.9 181.8 L1149.1 181.7 L1151.2 181.5 L1153.4 181.4 L1155.6 181.2 L1157.8 181.0 L1160.0 180.9 L1162.2 180.7 L1164.4 180.6 L1166.5 180.4 L1168.7 180.3 L1170.9 180.1 L1173.1 180.0 L1175.3 179.8 L1177.5 179.7 L1179.7 179.6 L1181.9 179.4 L1184.1 179.3 L1186.3 179.2 L1188.5 179.1 L1190.7 178.9 L1192.9 178.8 L1195.1 178.7 L1197.2 178.5 L1199.4 178.4 L1201.5 178.3 L1203.5 178.1 L1205.5 177.9 L1207.5 177.8 L1209.5 177.6 L1211.5 177.4 L1213.6 177.3 L1215.7 177.1 L1217.8 177.0 L1220.0 176.9 L1221.9 176.8 L1223.8 176.8 L1225.8 176.7 L1227.8 176.7 L1229.8 176.7 L1231.8 176.7 L1233.9 176.7 L1236.0 176.6 L1238.1 176.6 L1240.2 176.6 L1242.3 176.6 L1244.4 176.6 L1246.6 176.6 L1248.7 176.6 L1250.6 176.6 L1252.6 176.6 L1254.6 176.5 L1256.7 176.5 L1258.7 176.5 L1260.8 176.4 L1262.9 176.4 L1264.9 176.4 L1267.0 176.3 L1269.1 176.3 L1271.1 176.3 L1273.2 176.3 L1275.2 176.2 L1277.2 176.2 L1279.2 176.2 L1281.2 176.2 L1283.1 176.2 L1285.3 176.2 L1287.4 176.2 L1289.5 176.2 L1291.6 176.2 L1293.6 176.2 L1295.7 176.2 L1297.7 176.2 L1299.7 176.2 L1301.7 176.2 L1303.8 176.2 L1305.8 176.3 L1307.9 176.3 L1310.0 176.4 L1312.0 176.5 L1314.0 176.5 L1316.1 176.6 L1318.2 176.7 L1320.3 176.8 L1322.4 176.9 L1324.5 177.0 L1326.6 177.2 L1328.7 177.3 L1330.7 177.4 L1332.7 177.6 L1334.7 177.7 L1336.5 177.9 L1338.3 178.0 L1340.0 178.2 L1342.4 178.4 L1344.5 178.7 L1346.6 178.9 L1348.6 179.2 L1350.5 179.5 L1352.5 179.9 L1354.5 180.4 L1356.2 180.7 L1357.9 181.1 L1359.6 181.5 L1361.2 181.9 L1362.7 182.4 L1364.3 182.9 L1365.8 183.5 L1367.2 184.1 L1368.6 184.7 L1370.0 185.4 L1371.3 186.1 L1372.6 186.8 L1373.9 187.6 L1375.1 188.4 L1376.3 189.2 L1377.5 190.1 L1378.6 191.0 L1379.7 191.9 L1380.8 192.8 L1381.8 193.8 L1382.8 194.8 L1383.8 195.9 L1384.7 196.9 L1385.6 198.0 L1386.5 199.1 L1387.3 200.2 L1388.2 201.4 L1389.0 202.6 L1389.8 203.8 L1390.5 205.0 L1391.2 206.2 L1391.9 207.5 L1392.6 208.8 L1393.3 210.1 L1393.9 211.4 L1394.5 212.7 L1395.1 214.1 L1395.7 215.5 L1396.2 216.8 L1396.8 218.2 L1397.3 219.7 L1397.8 221.1 L1398.2 222.5 L1398.7 224.0 L1399.1 225.4 L1399.6 226.9 L1400.0 228.4 L1400.4 229.9 L1400.8 231.3 L1401.1 232.9 L1401.5 234.4 L1401.8 235.9 L1402.2 237.4 L1402.5 238.9 L1402.8 240.5 L1403.1 242.0 L1403.4 243.5 L1403.7 245.1 L1404.0 246.6 L1404.3 248.1 L1404.5 249.7 L1404.8 251.2 L1405.0 252.7 L1405.3 254.3 L1405.5 255.8 L1405.8 257.3 L1406.0 258.9 L1406.2 260.4 L1406.5 261.9 L1406.7 263.4 L1406.9 264.9 L1407.2 266.4 L1407.4 267.9 L1407.6 269.4 L1407.8 270.8 L1408.1 272.3 L1408.3 273.8 L1408.5 275.3 L1408.7 276.7 L1409.0 278.2 L1409.2 279.6 L1409.4 281.1 L1409.6 282.5 L1409.8 284.0 L1410.1 285.5 L1410.3 286.9 L1410.5 288.4 L1410.7 289.8 L1410.9 291.3 L1411.2 292.7 L1411.4 294.2 L1411.6 295.6 L1411.8 297.1 L1412.0 298.5 L1412.2 300.0 L1412.4 301.4 L1412.7 302.9 L1412.9 304.4 L1413.1 305.8 L1413.3 307.3 L1413.5 308.8 L1413.7 310.3 L1413.9 311.8 L1414.1 313.2 L1414.3 314.7 L1414.5 316.2 L1414.7 317.7 L1414.9 319.2 L1415.1 320.7 L1415.3 322.3 L1415.4 323.8 L1415.6 325.3 L1415.8 326.8 L1416.0 328.4 L1416.1 329.9 L1416.3 331.5 L1416.4 333.0 L1416.6 334.6 L1416.7 336.1 L1416.9 337.7 L1417.0 339.3 L1417.2 340.9 L1417.3 342.6 L1417.5 344.2 L1417.7 345.9 L1417.8 347.6 L1418.0 349.4 L1418.2 351.2 L1418.4 353.0 L1418.6 354.8 L1418.8 356.6 L1419.0 358.3 L1419.3 359.9 L1419.5 361.3 L1419.8 362.4 L1420.1 363.3 L1420.3 363.7 L1420.6 363.8 L1420.9 363.4 L1421.2 362.7 L1421.5 361.6 L1421.8 360.3 L1422.1 358.7 L1422.4 357.1 L1422.7 355.3 L1422.9 353.4 L1423.2 351.6 L1423.5 349.7 L1423.7 347.9 L1423.9 346.1 L1424.2 344.4 L1424.4 342.6 L1424.6 340.9 L1424.8 339.2 L1425.0 337.6 L1425.2 336.0 L1425.4 334.4 L1425.5 332.8 L1425.7 331.2 L1425.9 329.7 L1426.1 328.2 L1426.3 326.7 L1426.4 325.3 L1426.6 323.9 L1426.8 322.4 L1427.0 321.0 L1427.1 319.6 L1427.3 318.2 L1427.5 316.8 L1427.7 315.3 L1427.9 313.9 L1428.1 312.5 L1428.3 311.0 L1428.5 309.6 L1428.7 308.1 L1428.9 306.6 L1429.1 305.2 L1429.3 303.7 L1429.5 302.2 L1429.7 300.7 L1430.0 299.2 L1430.2 297.7 L1430.4 296.2 L1430.6 294.7 L1430.8 293.2 L1431.1 291.7 L1431.3 290.2 L1431.5 288.7 L1431.7 287.1 L1431.9 285.6 L1432.1 284.1 L1432.3 282.6 L1432.5 281.1 L1432.8 279.6 L1433.0 278.1 L1433.2 276.5 L1433.4 275.0 L1433.5 273.5 L1433.7 272.0 L1433.9 270.5 L1434.1 269.0 L1434.3 267.5 L1434.5 266.0 L1434.7 264.5 L1434.9 263.0 L1435.1 261.5 L1435.3 260.1 L1435.5 258.6 L1435.7 257.1 L1435.9 255.6 L1436.1 254.1 L1436.3 252.6 L1436.6 251.1 L1436.8 249.7 L1437.0 248.2 L1437.3 246.7 L1437.5 245.2 L1437.8 243.7 L1438.1 242.3 L1438.4 240.8 L1438.6 239.3 L1438.9 237.9 L1439.3 236.4 L1439.6 234.9 L1439.9 233.5 L1440.3 232.0 L1440.6 230.5 L1441.0 229.1 L1441.4 227.6 L1441.8 226.1 L1442.2 224.7 L1442.6 223.2 L1443.0 221.8 L1443.5 220.3 L1444.0 218.9 L1444.5 217.4 L1445.0 216.0 L1445.5 214.6 L1446.1 213.2 L1446.7 211.8 L1447.3 210.4 L1447.9 209.0 L1448.5 207.6 L1449.2 206.3 L1449.9 205.0 L1450.6 203.7 L1451.4 202.4 L1452.2 201.1 L1453.0 199.9 L1453.8 198.7 L1454.7 197.5 L1455.6 196.3 L1456.5 195.2 L1457.5 194.0 L1458.5 193.0 L1459.5 191.9 L1460.5 190.9 L1461.6 189.9 L1462.8 188.9 L1464.0 188.0 L1465.2 187.2 L1466.4 186.3 L1467.7 185.5 L1469.0 184.8 L1470.4 184.0 L1471.8 183.4 L1473.3 182.7 L1474.8 182.1 L1476.3 181.6 L1478.6 180.7 L1480.8 179.8 L1483.2 179.1 L1485.6 178.3 L1487.6 177.7 L1489.6 177.1 L1491.6 176.6 L1493.8 176.1 L1496.0 175.6 L1498.4 175.1 L1500.2 174.8 L1502.1 174.5 L1504.0 174.2 L1506.0 174.0 L1508.0 173.7 L1510.1 173.5 L1512.2 173.3 L1514.4 173.0 L1516.5 172.8 L1518.7 172.6 L1520.8 172.4 L1522.8 172.2 L1524.8 172.0 L1526.8 171.8 L1528.9 171.6 L1531.0 171.5 L1533.0 171.3 L1535.1 171.1 L1537.2 170.9 L1539.3 170.8 L1541.4 170.6 L1543.5 170.5 L1545.6 170.3 L1547.7 170.2 L1549.8 170.1 L1551.9 170.0 L1553.9 169.8 L1556.0 169.7 L1558.1 169.6 L1560.2 169.5 L1562.3 169.5 L1564.4 169.4 L1566.5 169.3 L1568.5 169.2 L1570.6 169.1 L1572.7 169.0 L1574.7 168.9 L1576.8 168.8 L1578.9 168.7 L1581.1 168.6 L1583.1 168.5 L1585.2 168.3 L1587.3 168.2 L1589.4 168.1 L1591.5 168.0 L1593.6 167.9 L1595.7 167.8 L1597.8 167.7 L1600.0 167.6 L1602.0 167.5 L1603.9 167.4 L1605.9 167.4 L1607.8 167.3 L1609.8 167.3 L1611.8 167.2 L1613.7 167.1 L1615.7 167.1 L1617.8 167.0 L1619.8 167.0 L1621.8 166.9 L1623.9 166.8 L1626.1 166.8 L1628.2 166.7 L1630.1 166.6 L1632.0 166.6 L1633.9 166.5 L1635.8 166.4 L1637.8 166.3 L1639.8 166.3 L1641.8 166.2 L1643.8 166.1 L1645.9 166.0 L1647.9 166.0 L1650.0 165.9 L1652.0 165.8 L1654.1 165.7 L1656.1 165.6 L1658.2 165.6 L1660.2 165.5 L1662.3 165.4 L1664.3 165.4 L1666.3 165.3 L1668.3 165.2 L1670.3 165.2 L1672.3 165.1 L1674.3 165.1 L1676.3 165.0 L1678.4 164.9 L1680.4 164.9 L1682.4 164.8 L1684.4 164.8 L1686.4 164.7 L1688.4 164.7 L1690.4 164.6 L1692.4 164.6 L1694.4 164.5 L1696.5 164.5 L1698.5 164.4 L1700.5 164.4 L1702.5 164.3 L1704.5 164.3 L1706.5 164.3 L1708.6 164.2 L1710.7 164.2 L1712.9 164.2 L1715.0 164.1 L1717.2 164.1 L1719.4 164.1 L1721.5 164.1 L1723.7 164.0 L1725.8 164.0 L1727.9 164.0 L1730.0 164.0 L1732.0 164.0 L1734.0 163.9 L1735.9 163.9 L1737.7 163.9 L1739.5 163.9 L1741.1 163.9 L1742.7 163.9 L1745.1 163.9 L1747.3 163.9 L1749.3 163.9 L1751.2 163.9 L1753.1 164.0 L1755.0 164.0 L1757.0 164.0" stroke="#fd2e34" stroke-width="4.8"/>
</g>
<path d="M433.7 1241.6V1217.6 M811.6 1241.6V1217.6 M1189.4 1241.6V1217.6 M1567.3 1241.6V1217.6 M622.6 1241.6V1229.6 M1000.5 1241.6V1229.6 M1378.4 1241.6V1229.6 M244.8 1130.7H256.8 M244.8 1019.8H268.8 M244.8 908.9H256.8 M244.8 798.0H268.8 M244.8 687.1H256.8 M244.8 576.2H268.8 M244.8 465.3H256.8 M244.8 354.4H268.8 M244.8 243.5H256.8 M244.8 132.6H268.8" stroke="#000" stroke-width="3.4" fill="none"/>
<rect x="244.6" y="22.0" width="1511.5" height="1220.0" fill="none" stroke="#000" stroke-width="3.8"/>
<text x="218.5" y="1266.3" font-size="81" font-weight="bold" text-anchor="end">0.0</text>
<text x="218.5" y="1044.5" font-size="81" font-weight="bold" text-anchor="end">0.2</text>
<text x="218.5" y="822.7" font-size="81" font-weight="bold" text-anchor="end">0.4</text>
<text x="218.5" y="600.9" font-size="81" font-weight="bold" text-anchor="end">0.6</text>
<text x="218.5" y="379.1" font-size="81" font-weight="bold" text-anchor="end">0.8</text>
<text x="218.5" y="157.3" font-size="81" font-weight="bold" text-anchor="end">1.0</text>
<text x="432.9" y="1331.2" font-size="82" font-weight="bold" text-anchor="middle">700</text>
<text x="810.8" y="1331.2" font-size="82" font-weight="bold" text-anchor="middle">800</text>
<text x="1188.6" y="1331.2" font-size="82" font-weight="bold" text-anchor="middle">900</text>
<text x="1566.5" y="1331.2" font-size="82" font-weight="bold" text-anchor="middle">1000</text>
<text x="0" y="0" font-size="103.6" font-weight="bold" transform="translate(82.3 887.7) rotate(-90)">Reflectance</text>
<text x="615.9" y="1480.5" font-size="104" font-weight="bold">Wavelength (nm)</text>
<text x="867.2" y="339.3" font-size="64" font-weight="bold" font-style="italic" fill="#ff0000">Q</text><text x="0" y="0" font-size="68" fill="#ff0000" transform="translate(925.4 341.4) scale(1.07 1)">≈</text><text x="979.5" y="339.3" font-size="63" font-weight="bold" fill="#ff0000">965</text>
<text x="1397.1" y="426.0" font-size="64" font-weight="bold" font-style="italic" fill="#ff0000">Q</text><text x="0" y="0" font-size="68" fill="#ff0000" transform="translate(1455.4 429.0) scale(1.07 1)">≈</text><text x="1507.2" y="426.2" font-size="64" font-weight="bold" fill="#ff0000">138</text>
<text x="831.3" y="1079.5" font-size="64" font-weight="bold" font-style="italic" fill="#000000">Q</text><text x="0" y="0" font-size="68" fill="#000000" transform="translate(889.6 1082.2) scale(1.07 1)">≈</text><text x="939.2" y="1080.3" font-size="64.5" font-weight="normal" font-style="italic" stroke="#000000" stroke-width="0.7" fill="#000000">793</text>
<text x="1311.3" y="1048.5" font-size="64" font-weight="bold" font-style="italic" fill="#000000">Q</text><text x="0" y="0" font-size="68" fill="#000000" transform="translate(1370.9 1051.9) scale(1.07 1)">≈</text><text x="1422.0" y="1049.1" font-size="64" font-weight="bold" fill="#000000">102</text>
<path d="M261 1073.9H394.4" stroke="#464646" stroke-width="4.8"/>
<path d="M261 1159.3H394.4" stroke="#fd2e34" stroke-width="4.8"/>
<text x="0" y="0" font-size="52.7" font-style="italic" style="font-family:'DejaVu Serif',serif" transform="translate(400.8 1094.1) scale(1.120 1)">f</text><text x="0" y="0" font-size="52.7" font-style="italic" style="font-family:'DejaVu Serif',serif" transform="translate(419.2 1094.1) scale(1.120 1)">f</text><text x="0" y="0" font-size="41" stroke="#000" stroke-width="0.6" transform="translate(445.4 1109.3) scale(0.88 1)">2</text><text x="476.9" y="1094.8" font-size="60" stroke="#000" stroke-width="0.5">≈</text><text x="522.5" y="1092.8" font-size="57" font-weight="bold">0.24</text>
<text x="0" y="0" font-size="52.7" font-style="italic" style="font-family:'DejaVu Serif',serif" transform="translate(400.8 1179.5) scale(1.120 1)">f</text><text x="0" y="0" font-size="52.7" font-style="italic" style="font-family:'DejaVu Serif',serif" transform="translate(419.2 1179.5) scale(1.120 1)">f</text><text x="0" y="0" font-size="41" stroke="#000" stroke-width="0.6" transform="translate(445.4 1194.7) scale(0.88 1)">2</text><text x="476.9" y="1179.3" font-size="60" stroke="#000" stroke-width="0.5">≈</text><text x="522.5" y="1177.3" font-size="57" font-weight="bold">0.3</text>
</svg></body></html>
